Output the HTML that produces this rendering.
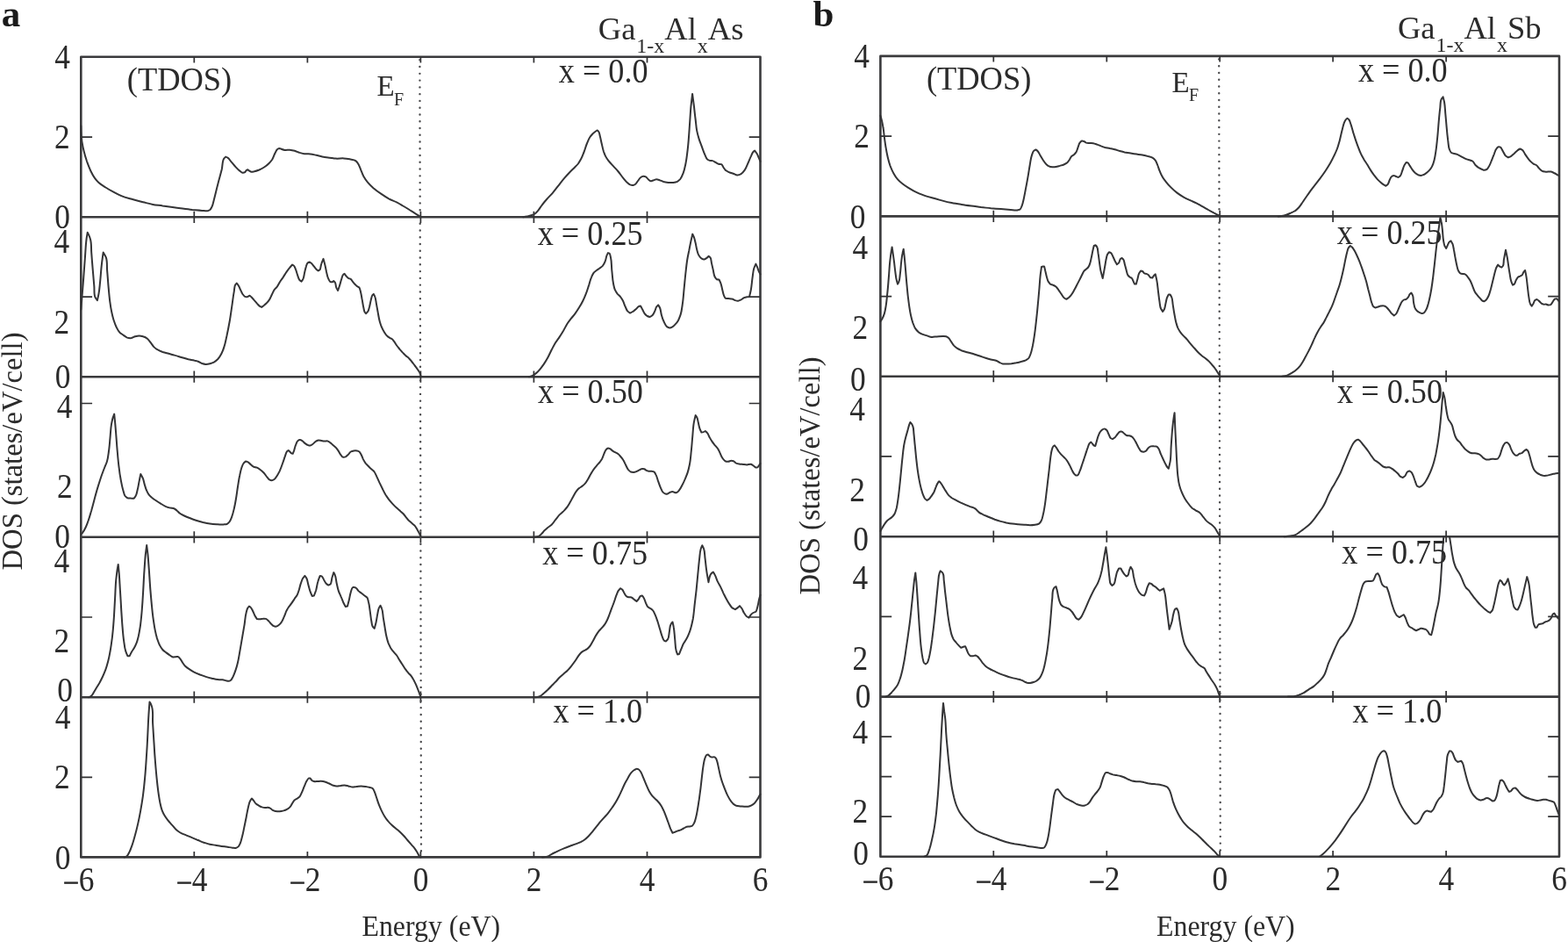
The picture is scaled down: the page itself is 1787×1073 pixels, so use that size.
<!DOCTYPE html>
<html lang="en"><head><meta charset="utf-8"><title>Total density of states</title>
<style>
html,body{margin:0;padding:0;background:#fff;}
body{width:1787px;height:1073px;overflow:hidden;}
svg{display:block;}
text{font-family:"Liberation Serif", "DejaVu Serif", serif;fill:#2b2b2b;}
.ax{fill:none;stroke:#3a3a3c;stroke-width:2.6;stroke-linejoin:round;}
.tk{fill:none;stroke:#303032;stroke-width:1.7;}
.cv{fill:none;stroke:#343436;stroke-width:2;stroke-linejoin:round;stroke-linecap:round;}
.ef{fill:none;stroke:#4a4a4c;stroke-width:2.4;stroke-linecap:round;stroke-dasharray:0.01 7.757;}
.n{font-size:39.3px;}
.m{font-size:29px;stroke:#2b2b2b;stroke-width:0.8;}
.t{font-size:36.5px;}
.g{font-size:37.2px;}
.q{font-size:39px;}
.e{font-size:33px;}
.f{font-size:20px;}
.s{font-size:24px;}
.l{font-size:34.4px;}
.p{font-size:43px;font-weight:bold;fill:#1a1a1a;}
</style></head><body>
<svg width="1787" height="1073" viewBox="0 0 1787 1073" role="img" aria-label="Total density of states of Ga(1-x)Al(x)As and Ga(1-x)Al(x)Sb">
<rect width="1787" height="1073" fill="#fff"/>
<g id="panel-a">
<rect class="ax" x="92.3" y="64.8" width="774.2" height="911.6"/>
<path class="ax" d="M92.3 247.3H866.5M92.3 429.2H866.5M92.3 611.8H866.5M92.3 794.2H866.5"/>
<path class="tk" d="M221.3 64.8v6.6M221.3 240.7v13.2M221.3 422.6v13.2M221.3 605.2v13.2M221.3 787.6v13.2M221.3 976.5v-6.6M350.4 64.8v6.6M350.4 240.7v13.2M350.4 422.6v13.2M350.4 605.2v13.2M350.4 787.6v13.2M350.4 976.5v-6.6M479.4 64.8v6.6M479.4 240.7v13.2M479.4 422.6v13.2M479.4 605.2v13.2M479.4 787.6v13.2M479.4 976.5v-6.6M608.4 64.8v6.6M608.4 240.7v13.2M608.4 422.6v13.2M608.4 605.2v13.2M608.4 787.6v13.2M608.4 976.5v-6.6M737.5 64.8v6.6M737.5 240.7v13.2M737.5 422.6v13.2M737.5 605.2v13.2M737.5 787.6v13.2M737.5 976.5v-6.6"/>
<path class="tk" d="M92.3 156.1h12.8M866.5 156.1h-12.8M92.3 338.2h12.8M866.5 338.2h-12.8M92.3 459.5h12.8M866.5 459.5h-12.8M92.3 703h12.8M866.5 703h-12.8M92.3 885.3h12.8M866.5 885.3h-12.8"/>
<path class="ef" d="M478.4 68.3L480 969.5"/>
<path class="cv" d="M92.3 143.2C92.3 143.2 92.6 155.4 93.4 161.3C94 165 94.7 168.8 95.7 172.5C96.6 176.3 97.8 180.1 99 183.8C100.4 187.6 101.8 191.5 103.5 195C104.8 197.7 106.3 200.5 108 202.9C109.3 204.7 110.9 206.6 112.5 208.1C114.7 210.2 117.7 211.8 120.4 213.5C123.3 215.4 126.3 217.1 129.3 218.7C132.3 220.3 135.3 221.9 138.3 223.2C142.6 225 147.3 226 151.8 227.3C155.5 228.3 159.2 229.2 163 230.2C166.7 231.1 170.4 232.2 174.2 232.9C177.9 233.6 181.7 233.9 185.4 234.5C189.2 235 192.9 235.5 196.6 236C200.4 236.6 204.1 237.1 207.9 237.6C211.6 238.1 215.3 238.6 219.1 239C222.8 239.3 226.6 239.7 230.3 239.9C232.5 240 235.2 240.7 237 240.1C237.7 239.9 238.7 239.4 239.3 239C240.2 238.3 240.9 236.7 241.5 235.6C242.7 233.3 243.1 230.3 243.8 227.7C245.4 221.7 246.7 215.7 248.3 209.7C249.7 204 251.4 198.5 252.8 192.8C253.7 188.7 253.3 183 255.4 180.4C255.9 179.9 257.2 178.6 257.2 178.6C257.2 178.6 258.8 179.3 259.5 179.7C261.2 180.8 262.5 183.2 264 184.9C265.5 186.6 266.9 188.4 268.5 190.1C269.9 191.6 271.4 193.1 272.9 194.4C274 195.2 275.5 196.7 276.3 196.8C276.9 196.9 278.6 196.6 279.2 196.2C279.7 195.8 280.2 194.6 280.8 194.1C281.2 193.8 282.4 193.2 282.4 193.2C282.4 193.2 283.5 194.2 284.2 194.6C284.9 195 285.8 195.6 286.4 195.7C287.3 195.9 288.7 195.5 289.8 195.3C291.7 194.9 293.6 194.2 295.4 193.5C297.3 192.7 299.3 191.7 301 190.5C303 189.3 305 187.7 306.6 186C307.8 184.8 309 183.4 310 182C311.4 179.9 312.1 177.1 313.3 174.8C314.2 173.1 315 170.6 316.3 169.8C316.7 169.5 317.8 169 318.3 168.9C318.9 168.8 320.2 169.7 321.2 170C322.3 170.4 323.5 170.8 324.6 170.9C326.3 171.2 328.4 170.6 330.2 170.7C332 170.9 334 171.3 335.8 171.8C337.7 172.4 339.5 173.3 341.4 173.9C343.2 174.4 345.1 175 347 175.2C349.2 175.5 351.5 175.2 353.7 175.4C356 175.7 358.2 176.3 360.5 176.8C362.7 177.3 364.9 177.9 367.2 178.4C370.2 179 373.2 179.3 376.2 179.7C378.4 180 380.7 180.5 382.9 180.6C385.8 180.8 388.9 180.2 391.9 180.4C394.1 180.5 396.4 180.9 398.6 181.3C400.9 181.8 403.9 182 405.3 183.1C406.1 183.7 407 184.7 407.6 185.6C409.1 187.6 409.9 190.4 411 192.8C412.1 195.4 413 198.2 414.3 200.7C415.6 203 417.2 205.4 418.8 207.4C420.8 209.9 423.2 212.1 425.5 214.2C428.3 216.6 431.4 218.8 434.5 220.9C437.4 222.9 440.4 224.9 443.5 226.6C446.4 228.1 449.6 229.1 452.5 230.6C454.8 231.8 457 233.2 459.2 234.5C461.5 235.8 463.7 237.1 465.9 238.5C468.2 239.9 470.4 241.4 472.7 242.8C474.9 244.2 479.4 246.8 479.4 246.8M596.2 247.3C596.2 247.3 599.2 246.7 600.7 246.4C602.5 246 604.5 245.7 606.3 245C607.4 244.6 608.7 244.1 609.6 243.5C610.9 242.6 612 241.3 613 240.1C614.7 238.2 615.9 235.8 617.5 233.8C619.2 231.5 621.1 229.2 623.1 227C625.2 224.6 627.6 222.3 629.8 219.8C632.1 217.1 634.2 214.1 636.5 211.3C638.7 208.5 640.9 205.6 643.2 202.9C645 200.9 646.9 198.8 648.8 196.8C650.6 194.9 652.5 193.1 654.4 191.2C655.9 189.7 657.6 188.2 658.9 186.5C660.1 184.8 661.2 182.9 662.2 181.1C663.6 178.5 664.5 175.7 665.6 173C666.8 169.9 667.6 166.6 668.9 163.5C669.9 161.1 670.9 158.4 672.3 156.3C673.2 154.9 674.4 153.4 675.6 152.2C676.6 151.3 677.8 150.3 679 149.5C679.6 149.1 680.8 148.4 680.8 148.4C680.8 148.4 682 149.5 682.3 150C683.3 151.3 683.4 153.7 683.9 155.6C684.6 158.2 685.1 160.9 685.7 163.5C686.4 166.5 687 169.6 687.9 172.5C688.6 174.4 689.3 176.4 690.2 178.1C691.1 179.9 692.3 181.5 693.5 183.1C695.2 185.3 697.2 187.3 699.1 189.4C701 191.5 703 193.4 704.7 195.5C706.7 197.9 708.3 200.6 710.3 202.9C711.7 204.6 713.1 206.5 714.8 207.9C715.8 208.8 717 209.9 718.1 210.4C719.1 210.8 720.7 211.2 721.5 211C722.2 210.9 723.5 210.2 724.2 209.7C725.3 208.8 726.1 207.1 727.1 205.9C728.1 204.6 728.9 203.1 730 202.3C730.8 201.6 732.3 200.7 733.1 200.7C733.9 200.6 735.3 201 736 201.3C737.1 201.9 737.9 203.6 739 204.5C739.8 205.2 741.1 206.2 741.6 206.3C742.2 206.4 743.9 205.5 745 205.2C746 204.9 747.1 204.3 747.9 204.3C749 204.2 750.5 204.8 751.7 205.2C753.2 205.6 754.7 206.5 756.2 207C757.9 207.5 759.9 207.7 761.8 207.9C763.6 208 765.6 208.1 767.4 207.9C768.8 207.7 770.6 207.4 771.9 206.8C773 206.2 774.3 205 775.2 204.1C776.7 202.4 777.7 199.6 778.6 197.3C780 193.8 780.7 189.8 781.5 186C782.5 180.9 783.1 175.5 783.7 170.3C784.8 161.3 785.3 152.3 785.9 143.2C786.5 135.7 786.8 128.2 787.5 120.7C788 116.1 789.1 106.9 789.1 106.9C789.1 106.9 790.3 116.1 790.9 120.7C791.5 126 792 131.2 792.7 136.5C793.2 140.6 793.4 144.8 794.2 148.9C794.8 151.9 795.6 154.9 796.5 157.9C797.4 160.9 798.7 163.9 799.8 166.9C800.9 169.9 801.9 173 803.2 175.9C804 177.8 804.8 180.5 806.1 181.5C806.7 182 807.9 182.6 808.8 182.9C809.7 183.2 811.2 182.8 812.1 183.1C813.2 183.4 814.4 184.3 815.5 184.9C816.6 185.5 817.7 186.4 818.8 186.7C819.8 187 821.6 186.8 822.2 187.2C822.9 187.5 823.7 189.4 824.4 190.5C825.3 191.8 826.1 193.3 827.1 194.1C828.1 195 829.8 195.6 831.1 196.2C832.6 196.8 834.1 197.2 835.6 197.7C837.1 198.3 838.9 199.5 840.1 199.5C841.2 199.6 843.4 198.9 844.6 198.2C846 197.4 847.5 195.4 848.6 193.9C850.2 191.7 851.2 188.7 852.4 186C853.6 183.4 854.5 180.7 855.8 178.1C856.6 176.4 857.2 174.2 858.4 173C858.9 172.5 860.2 171.6 860.2 171.6C860.2 171.6 861.8 173.7 862.5 174.8C863.4 176.3 864 178.1 864.7 179.7C865.3 181.1 866.5 183.8 866.5 183.8"/>
<path class="cv" d="M92.3 352.6C92.3 352.6 93.1 343.6 93.4 339.1C94 331.7 94.6 324.2 95.2 316.7C95.8 308.5 96.4 300.3 97 292.1C97.5 285.4 97.7 278.6 98.6 271.9C98.9 269.6 99.7 264.8 99.7 264.8C99.7 264.8 100.8 266.8 101.3 267.9C101.9 269.2 102.4 270.6 102.8 271.9C104.4 276.7 103.8 282.4 104.2 287.6C104.7 294.3 105.2 301.1 105.8 307.8C106.3 313.8 106.8 319.7 107.3 325.7C107.8 330.2 106.8 336 108.7 339.1C109.2 340 110.9 342.1 110.9 342.1C110.9 342.1 112.1 337.1 112.5 334.7C113.3 330.2 113.6 325.7 114.1 321.2C114.8 314.5 115.1 307.8 115.9 301.1C116.4 296.5 117.7 287.5 117.7 287.5C117.7 287.5 120.1 291.4 120.8 293.2C122.4 297.3 121.7 302.9 122.1 307.8C122.7 314.5 123.1 321.2 123.7 327.9C124.2 333.2 124.6 338.4 125.3 343.6C125.8 347.4 126.3 351.1 127.1 354.8C127.7 357.8 128.4 360.9 129.3 363.8C130.3 366.8 131.3 370 132.7 372.7C133.7 374.7 134.7 376.9 136.1 378.3C137.2 379.6 139 380.6 140.5 381.7C142 382.7 143.6 384.1 145 384.6C146.3 385 148.2 385.2 149.5 385.1C150.9 384.9 152.5 383.7 154 383.3C155.4 382.9 157.1 382.4 158.5 382.4C159.9 382.4 161.6 382.8 163 383.3C164.7 383.8 166.6 384.7 167.9 385.7C169.4 386.9 170.7 389 172 390.7C173.1 392.1 174.1 393.9 175.3 395.1C176.3 396.1 177.5 397.1 178.7 397.8C180.7 399.2 183.1 400.2 185.4 401C187.6 401.7 189.9 402.2 192.2 402.8C194.4 403.4 196.7 403.9 198.9 404.6C201.5 405.3 204.1 406.2 206.7 407C209.4 407.8 212 408.6 214.6 409.3C216.8 409.8 219.1 410.1 221.3 410.6C222.8 411 224.4 411.2 225.8 411.7C227.3 412.3 228.8 413.4 230.3 414C231.6 414.4 233.1 414.8 234.3 414.9C235.9 415 237.7 414.6 239.3 414.2C240.8 413.8 242.5 413.3 243.8 412.6C245.4 411.8 247 410.3 248.3 409C249.8 407.4 251.2 405.1 252.3 403C253.6 400.6 254.6 397.8 255.4 395.1C256.8 391.2 257.4 386.9 258.4 382.8C259.6 377.3 260.7 371.6 261.7 366C262.8 360.1 263.5 354.1 264.4 348.1C265.2 342.9 265.7 337.6 266.7 332.4C267.2 329.6 267 325.7 268.5 323.9C268.8 323.5 269.8 322.6 269.8 322.6C269.8 322.6 271.2 324.3 271.8 325.3C272.8 326.7 273.3 328.6 274.1 330.2C274.8 331.7 275.4 333.3 276.3 334.7C277 335.7 277.9 337.1 278.8 337.6C279.4 337.9 280.8 338.3 281.5 338.2C282.3 338.2 284.6 336.7 284.6 336.7C284.6 336.7 286.2 338 286.9 338.7C287.9 339.7 288.8 340.9 289.8 342.1C290.9 343.3 292 344.6 293.1 345.9C294.2 347 295.2 348.5 296.5 349.2C297 349.5 298.1 349.9 298.1 349.9C298.1 349.9 300 348.4 301 347.7C302.1 346.7 303.4 345.8 304.4 344.7C305.4 343.6 306.4 342.3 307.3 340.9C308.4 339.2 309 337.2 310 335.3C310.9 333.5 311.7 331.4 312.9 329.7C313.7 328.7 314.8 327.8 315.6 326.8C316.9 325.2 317.8 323.1 318.9 321.2C320.2 319.3 321.5 317.5 322.8 315.6C324.1 313.6 325.4 311.4 326.8 309.4C327.9 307.8 329 306.3 330.2 304.9C331.1 303.7 333.1 301.5 333.1 301.5C333.1 301.5 334.6 302.4 335.1 302.9C335.9 303.7 336.4 305.4 336.9 306.7C337.8 308.8 338.3 311.2 339.1 313.4C339.8 315.3 340.3 317.8 341.4 319C341.9 319.5 343.6 320.6 343.6 320.6C343.6 320.6 345 318.8 345.4 317.9C346.4 316 346.5 313.4 347 311.1C347.6 308.7 348 306.1 348.8 303.8C349.2 302.4 349.6 300.5 350.4 299.7C350.8 299.3 352.6 298.4 352.6 298.4C352.6 298.4 354.2 299.4 354.9 299.9C355.9 300.9 356.8 302.2 357.8 303.3C358.7 304.4 359.5 305.7 360.5 306.7C361.1 307.3 362.7 308.5 362.7 308.5C362.7 308.5 364.2 307.6 364.5 307.3C365.5 306.4 365.4 303.1 366.1 301.1C366.7 299 368.5 294.8 368.5 294.8C368.5 294.8 369.8 299.3 370.3 301.5C371 304.3 371.5 307.2 372.1 310C372.7 312.3 373 314.7 373.9 316.7C374.5 318.1 375.4 320.4 376.2 320.8C376.6 321 377.9 321.3 378.4 321.2C378.9 321.1 380.2 320.1 380.2 320.1C380.2 320.1 381.4 321.2 381.8 321.7C382.9 323.1 382.5 326.1 383.4 327.9C383.8 328.9 385.1 330.9 385.1 330.9C385.1 330.9 386.4 327.4 386.9 325.7C387.8 323.1 388.3 320.4 389.2 317.9C389.8 316.1 390.1 313.7 391.2 312.7C391.5 312.4 392.6 311.8 392.6 311.8C392.6 311.8 393.8 313.7 394.6 314.5C395.3 315.3 396 316.2 396.8 316.7C397.6 317.3 399 317.4 399.7 317.9C400.6 318.5 401.2 319.8 402 320.8C402.7 321.7 403.4 322.6 404.2 323.5C404.9 324.2 405.7 325.1 406.5 325.7C407.3 326.3 408.6 326.8 409.2 327.3C410.1 328.2 410.5 330.7 411 332.4C411.7 335 412 337.6 412.5 340.3C413.2 343.6 413.5 347 414.3 350.3C414.8 352.2 414.9 354.8 415.9 355.9C416.2 356.3 417.2 357.1 417.2 357.1C417.2 357.1 418.8 355.6 419.3 354.8C420.2 353.4 420.5 351.1 421.1 349.2C421.8 346.7 422.1 344 422.8 341.4C423.3 339.7 423.5 337.5 424.4 336.2C424.8 335.8 425.8 334.9 425.8 334.9C425.8 334.9 426.9 337 427.3 338C428.3 340.4 428.4 343.2 428.9 345.9C429.5 349.2 430.1 352.6 430.7 355.9C431.3 359.3 431.8 362.8 432.7 366C433.4 368.3 434 370.6 435 372.7C435.8 374.7 436.8 376.6 437.9 378.3C438.9 379.9 440 381.7 441.3 382.8C442.2 383.7 443.5 384.4 444.6 385.1C445.3 385.5 446.3 385.7 446.9 386.2C447.7 386.8 448.4 388 449.1 388.9C450.3 390.5 451.3 392.4 452.5 394C453.5 395.4 454.7 396.7 455.8 398.1C456.9 399.3 458 400.6 459.2 401.9C460.3 403 461.4 404.2 462.6 405.2C463.6 406.2 464.9 406.9 465.9 407.9C467.2 409.1 468.2 410.6 469.3 412C470.5 413.4 471.5 414.9 472.7 416.4C473.8 417.9 475 419.4 476 420.9C476.8 422 477.7 423.1 478.3 424.3C478.8 425.3 479.4 427.6 479.4 427.6M602.9 429.2C602.9 429.2 606 428.3 607.4 427.6C608.5 427 609.7 426.2 610.7 425.4C612.4 424.1 613.9 422.5 615.2 420.9C616.8 419 618.3 416.9 619.7 414.9C621.3 412.5 622.8 410 624.2 407.5C625.8 404.6 627.1 401.5 628.6 398.5C630.1 395.7 631.5 392.9 633.1 390.2C634.5 388.1 636.2 386.1 637.6 383.9C639.2 381.6 640.6 379.2 642.1 376.8C643.6 374.1 644.9 371.3 646.5 368.7C647.9 366.6 649.5 364.7 651 362.7C652.5 360.8 654.1 359 655.5 357.1C657.1 354.9 658.6 352.6 660 350.3C661.6 347.8 663.1 345.2 664.4 342.5C665.7 340 666.8 337.3 667.8 334.7C669.1 331.4 670.1 327.9 671.2 324.6C672.1 321.6 672.8 318.4 674.1 315.6C674.8 313.9 675.6 311.8 676.8 310.5C677.6 309.5 679 308.6 680.1 307.8C681.2 307 682.4 306.3 683.5 305.5C684.6 304.7 685.9 303.8 686.8 302.9C688 301.5 689 299.5 689.7 297.7C690.6 295.6 690.7 293.1 691.5 291C691.9 290 692.9 288.1 692.9 288.1C692.9 288.1 694.4 288.6 694.7 288.7C695.3 289.2 695.6 291.7 696 293.2C697.1 297.8 696.8 302.9 697.3 307.8C697.9 313 698 318.4 699.1 323.5C699.6 325.7 700 328.2 700.9 330.2C701.6 331.7 702.6 333.3 703.6 334.7C704.6 335.9 706 336.8 707 338C708.1 339.4 709 341 709.9 342.5C711 344.6 711.5 347.1 712.6 349.2C713.4 351 714.1 353.1 715.2 354.4C716 355.2 718.1 356.6 718.1 356.6C718.1 356.6 720.5 355.5 721.5 354.8C722.7 354.1 723.8 353.1 724.9 352.1C725.9 351.2 726.7 349.8 727.8 349.2C728.4 348.9 730 348.6 730 348.6C730 348.6 731.5 351.2 732.2 352.6C733.1 354.2 733.8 356.2 734.9 357.5C735.7 358.4 736.7 359.5 737.6 360C738.4 360.4 739.9 360.9 740.5 360.9C741.2 360.8 742.7 359.9 743.4 359.3C744.5 358.4 745.3 356.4 746.1 354.8C747 353.1 747.2 350.7 748.4 349.2C748.8 348.6 750.1 347.4 750.1 347.4C750.1 347.4 751.5 349.4 751.9 350.3C753.2 352.9 753.1 356.4 754 359.3C754.7 361.9 755.6 364.7 756.9 367.1C757.7 368.8 758.7 371.2 760 372.1C760.7 372.6 762.4 373.4 763.1 373.4C763.9 373.4 765.4 372.8 766.3 372.3C767.5 371.6 768.6 370.4 769.6 369.4C770.9 368.1 772.1 366.5 773 364.9C774.1 362.9 774.9 360.4 775.7 358.2C776.9 354.3 777.3 350 777.9 345.9C778.8 339.9 779.1 333.9 779.7 327.9C780.3 322 780.8 316 781.5 310C782 305.2 782.5 300.3 783.3 295.5C783.8 292.1 784.6 288.7 785.3 285.4C786 281.6 786.7 277.9 787.5 274.2C788.1 271.6 789.3 266.6 789.3 266.6C789.3 266.6 790.4 268.9 790.9 270.1C791.7 272.3 792.1 274.6 792.7 276.9C793.2 279.3 793.6 281.9 794.2 284.3C794.8 286.5 795.3 289.2 796.5 291C797.2 292.1 798.3 293.7 799.4 294.3C800.2 294.8 801.9 295.5 802.5 295.5C803.2 295.4 804.6 294.5 805.4 293.9C806.2 293.3 807.7 291.7 807.7 291.7C807.7 291.7 809 292.8 809.4 293.2C810.6 294.6 810.5 297.7 811 299.9C811.6 302.6 812.2 305.2 812.8 307.8C813.4 310.4 813.5 313.6 814.8 315.6C815.4 316.5 816.4 318 817 318.3C817.5 318.5 819.5 318.5 819.5 318.5C819.5 318.5 820.8 321.1 821.3 322.3C822.3 324.8 822.6 327.6 823.3 330.2C823.9 332.4 824.2 334.9 825.1 336.9C825.5 337.9 826.7 339.8 826.7 339.8C826.7 339.8 828.9 340 830 340C831.5 340.2 833.2 340.1 834.5 340.5C835.6 340.8 836.7 341.7 837.9 342.1C838.9 342.4 840.3 342.8 841.2 342.7C842.2 342.6 843.5 341.9 844.6 341.4C845.7 340.8 846.8 339.7 847.9 339.1C848.9 338.7 850.2 338.4 851.3 338.2C852.2 338.1 854 338 854 338C854 338 855.3 332.8 855.8 330.2C856.6 325.8 856.9 321.2 857.5 316.7C858.1 313 858.2 309 859.3 305.5C859.9 303.9 861.4 300.6 861.4 300.6C861.4 300.6 862.6 303.1 863.1 304.4C863.7 305.9 864.1 307.5 864.7 308.9C865.2 310 866.5 312.3 866.5 312.3"/>
<path class="cv" d="M92.3 608.9C92.3 608.9 93.9 607.1 94.5 606.2C95.7 604.6 96.6 602.8 97.5 601C98.7 598.5 99.6 595.8 100.6 593.2C102 589.3 103 585.4 104.2 581.5C105.5 576.8 106.7 572 108 567.3C109.2 562.8 110.4 558.3 111.8 553.9C113.1 549.7 114.4 545.6 115.8 541.5C116.9 538.5 118 535.5 119.2 532.5C120.1 530.3 121.2 528 121.9 525.8C123 522.2 123.4 518.3 123.9 514.5C124.7 509.4 125 504.1 125.5 498.8C126 493.6 126.1 488.2 127 483.1C127.5 480.7 127.9 478.2 128.6 475.9C129.1 474.5 130.2 471.6 130.2 471.6C130.2 471.6 130.8 477.8 131.1 480.9C131.6 486.1 132 491.3 132.4 496.6C132.9 502.6 133.2 508.6 133.8 514.5C134.3 520.5 134.8 526.6 135.6 532.5C136.1 537 136.7 541.5 137.6 546C138.3 549.7 139 553.6 140 557.2C140.8 559.9 141.2 563.4 142.7 565.1C143.4 565.8 144.6 567 145.4 567.3C146.3 567.7 147.8 567.5 149 567.6C150.1 567.6 151.9 568 152.4 567.8C152.9 567.6 154.1 566 154.6 565.1C155.7 563.3 156.1 560.6 156.6 558.3C157.4 555.4 157.8 552.4 158.4 549.4C159 546.2 160.3 540 160.3 540C160.3 540 162.2 543.2 162.9 544.9C163.8 547 164 549.4 164.7 551.6C165.4 553.9 166 556.2 166.9 558.3C167.7 560 168.5 561.9 169.6 563.3C170.5 564.5 171.8 565.6 173 566.7C174.4 567.9 175.9 569 177.5 570C179.3 571.3 181.2 572.5 183.1 573.6C184.9 574.7 186.8 575.9 188.7 576.8C190.4 577.5 192.4 578.1 194.3 578.6C195.8 578.9 197.6 578.9 198.8 579.5C199.7 579.9 200.6 580.8 201.5 581.5C202.7 582.5 203.8 583.9 205 584.8C206.5 585.9 208.3 586.7 210 587.5C212.1 588.6 214.4 589.4 216.7 590.2C218.9 591.1 221.2 592 223.4 592.7C226 593.6 228.6 594.3 231.3 595C233.9 595.6 236.5 596.2 239.1 596.5C241.7 596.9 244.3 597.1 247 597.2C249.6 597.4 252.3 597.7 254.8 597.4C256.1 597.3 257.9 597.3 258.8 596.8C259.7 596.3 260.8 595.1 261.5 594.3C262.7 592.8 263.5 590.6 264.2 588.7C265.3 585.8 266 582.7 266.7 579.7C267.6 576 268.3 572.2 268.9 568.5C269.7 564 270.2 559.5 270.9 555C271.7 550.5 272.2 545.9 273.2 541.5C273.8 538.5 274.4 535.4 275.4 532.5C276.1 530.9 276.6 528.8 277.7 527.6C278.2 526.9 279.9 525.6 279.9 525.6C279.9 525.6 282 526 282.8 526.5C283.9 527 284.7 528.3 285.7 529.1C286.7 530 287.8 531.1 288.9 531.6C290 532.2 291.7 532.2 292.9 532.7C294.3 533.3 295.7 534.3 296.9 535.2C298.3 536.2 299.6 537.5 300.8 538.8C302 540.1 303 541.7 304.1 543.1C305.1 544.2 306 545.8 307 546.4C307.7 546.8 309.1 547.4 309.7 547.3C310.4 547.3 311.9 546.5 312.6 546C313.7 545.3 314.5 543.8 315.3 542.6C316.6 540.8 317.7 538.6 318.7 536.6C320 533.8 321 530.9 322 528C323 525.4 323.8 522.7 324.7 520.2C325.5 518.1 325.9 515.3 327.2 514.1C327.6 513.7 328.8 513 328.8 513C328.8 513 329.8 514 330.3 514.5C330.9 515.1 331.5 516 332.1 516.3C332.5 516.6 333.7 516.8 333.7 516.8C333.7 516.8 334.6 514.6 335.1 513.4C335.8 511.2 336.2 508.8 337.1 506.7C337.7 505.2 338.3 502.9 339.3 502.2C339.8 501.8 341.2 501.1 341.8 501.1C342.4 501.1 343.7 501.7 344.5 502.2C345.7 502.9 346.6 504.3 347.8 505.1C348.9 505.9 350 506.7 351.2 507.1C351.9 507.4 352.9 507.6 353.4 507.6C354.2 507.5 355.5 506.6 356.3 506C357.6 505.2 358.5 503.6 359.7 502.9C360.6 502.3 361.9 501.7 362.8 501.5C363.8 501.4 365.2 501.8 366.4 502C367.5 502.2 368.5 502.6 369.6 502.6C370.7 502.7 372.2 502.2 373.2 502.4C374 502.6 375 503.2 375.8 503.8C377.1 504.5 378.1 505.7 379.2 506.7C380.3 507.7 381.6 508.6 382.6 509.6C383.6 510.7 384.6 512.1 385.5 513.4C386.5 514.9 387.1 516.6 388.2 517.9C388.9 518.9 390 520.4 390.6 520.6C391.2 520.8 393 520.7 393.8 520.4C394.7 520 395.8 518.8 396.7 517.9C397.8 516.9 398.7 515.2 399.8 514.5C400.7 514 402.1 513.6 403.2 513.4C404.3 513.2 405.7 513.2 406.8 513.4C407.6 513.6 408.8 514.1 409.5 514.5C410.3 515.2 411.1 516.8 411.7 517.9C412.6 519.5 413.1 521.4 413.9 523.1C414.7 524.6 415.6 526.2 416.6 527.6C417.5 528.7 418.6 529.7 419.6 530.7C420.7 531.9 421.8 533 422.9 534.1C424 535.1 425.4 536 426.3 537C427.5 538.5 428.3 540.7 429.2 542.6C430.3 544.8 431.3 547.1 432.3 549.4C433.5 551.8 434.7 554.3 435.9 556.8C437.1 559.2 438.3 561.7 439.7 564C440.8 565.6 441.9 567.3 443.1 568.9C444.5 570.7 446 572.4 447.6 574.1C449 575.6 450.5 577.1 452.1 578.6C453.5 579.9 455.1 581.1 456.5 582.4C457.7 583.4 458.9 584.4 459.9 585.5C461.1 586.8 462.1 588.4 463.3 589.8C464.3 591.1 465.4 592.4 466.6 593.6C467.7 594.6 468.9 595.6 470 596.5C470.9 597.3 471.9 598 472.7 598.8C473.5 599.7 474.2 601 474.9 602.1C475.7 603.5 476.4 604.8 477.2 606.2C477.9 607.7 479.4 610.7 479.4 610.7M609.6 611.8C609.6 611.8 612.9 611.3 614.1 610.7C615.2 610.1 616.4 608.8 617.5 607.8C618.7 606.6 619.6 605.1 620.8 603.9C621.9 602.9 623 602 624.2 601C625.6 599.8 627.3 598.9 628.6 597.7C630.3 596.1 631.6 593.9 633.1 592C634.6 590.2 636 588.1 637.6 586.4C639 585 640.7 583.8 642.1 582.4C643.6 580.8 645.3 579.2 646.5 577.4C647.8 575.7 648.8 573.7 649.9 571.8C651.1 569.8 652.1 567.6 653.3 565.5C654.3 563.6 655.3 561.6 656.6 559.9C657.6 558.6 658.7 557.2 660 556.1C661 555.3 662.3 554.7 663.3 553.9C664.5 553 665.7 552 666.7 550.9C668 549.5 669 547.7 670 546C671.3 544 672.2 541.8 673.4 539.7C674.5 537.9 675.5 536 676.8 534.3C677.8 532.9 679 531.6 680.1 530.3C681.2 529 682.4 527.8 683.5 526.5C684.4 525.2 685.4 523.8 686.2 522.4C687.1 520.7 687.6 518.6 688.4 516.8C689.1 515.3 689.6 513.4 690.6 512.3C691.2 511.7 692.4 510.6 692.9 510.5C693.3 510.4 694.6 510.9 695.3 511.2C696.3 511.6 697.1 512.8 698 513.4C698.9 514.1 699.9 514.7 700.9 515.2C701.9 515.8 703.2 516.2 704.1 516.8C705.1 517.5 706 518.7 707 519.7C708.2 521 709.4 522.5 710.3 524C711.5 525.8 712.2 527.9 713.2 529.8C714.1 531.5 714.8 533.4 715.9 534.8C716.7 535.7 717.9 537 718.8 537.5C719.6 537.8 721 537.9 722 537.9C723.1 537.9 724.4 537.4 725.5 537C726.6 536.6 727.6 535.9 728.7 535.4C729.6 535 730.7 534.2 731.6 534.1C732.3 534 733.5 534.1 734.3 534.3C735.1 534.6 735.9 535.5 736.7 535.9C737.5 536.3 738.5 536.6 739.4 536.8C740.4 537 741.7 536.6 742.8 536.8C743.6 536.9 744.9 537.1 745.4 537.5C746.2 537.9 747.1 539.8 747.7 541.1C748.8 543.2 749.3 545.9 750.1 548.2C751 550.6 751.8 553.1 752.8 555.4C753.6 557.2 754.3 559.4 755.5 560.6C756.2 561.3 757.7 562.5 758.4 562.6C759.1 562.7 760.5 562.5 761.3 562.2C762.2 561.8 763.1 561 764 560.6C764.7 560.3 765.7 559.9 766.3 559.9C767 559.9 768.1 560.9 768.9 561C769.6 561.2 770.7 561.2 771.2 561C772 560.8 773.3 559.3 774.1 558.3C775.5 556.8 776.4 554.6 777.4 552.7C778.7 550.4 779.8 548 780.8 545.5C781.8 543.1 782.9 540.6 783.7 538.1C784.7 535.2 785.3 532.1 785.9 529.1C786.9 524.4 787.2 519.4 787.7 514.5C788.4 508.6 788.7 502.6 789.3 496.6C789.8 491.3 789.9 486 790.9 480.9C791.4 478.2 792.7 473 792.7 473C792.7 473 793.8 474.5 794.2 475.2C795.2 476.9 795.3 479.3 795.8 481.3C796.4 483.8 796.7 486.4 797.6 488.7C798.1 490 799.4 492.5 799.4 492.5C799.4 492.5 800.9 492.3 801.6 492.1C802.4 491.8 803.8 491 803.8 491C803.8 491 805.5 492.4 806.1 493.2C807.2 494.6 807.8 496.7 808.8 498.4C809.6 499.9 810.5 501.4 811.5 502.9C812.5 504.4 813.8 505.9 815 507.4C816.2 508.8 817.5 510.1 818.4 511.6C819.5 513.3 820.2 515.4 821.1 517.2C821.9 519 822.6 521 823.8 522.4C824.6 523.4 825.7 524.9 826.7 525.3C827.4 525.7 829 525.9 830 525.8C831.1 525.7 832.4 524.7 833.4 524.7C834.1 524.7 835.3 525 836.1 525.3C837.1 525.8 838 527.1 839 527.6C839.9 528 841.2 528.3 842.3 528.5C843.8 528.8 845.3 528.8 846.8 528.9C848.3 529.1 849.8 529.4 851.3 529.4C852.7 529.3 854.7 528.4 855.8 528.7C856.5 528.9 857.6 529.7 858.4 530.3C859.5 530.9 860.7 532.4 861.4 532.5C861.8 532.6 863.2 532.3 863.6 532.1C864.1 531.8 864.6 530.6 865.2 529.8C865.6 529.2 866.5 528 866.5 528"/>
<path class="cv" d="M101.3 794.2C101.3 794.2 103.4 793.2 104.2 792.6C105.3 791.7 106 790 106.9 788.6C108 786.8 109.1 784.9 110.2 783C111.4 781.1 112.5 779.3 113.6 777.4C114.8 775.2 115.9 773 117 770.7C118.2 768.1 119.3 765.5 120.3 762.9C121.4 760 122.2 756.9 123 753.9C123.9 750.6 124.6 747.2 125.2 743.8C126 740.1 126.5 736.4 127 732.7C127.7 728.2 128.2 723.7 128.6 719.2C129.2 713.3 129.6 707.3 130 701.3C130.4 694.6 130.7 687.9 131.1 681.2C131.5 674.5 131.6 667.7 132.2 661C132.6 657.3 133 653.6 133.5 649.8C133.9 647.5 134.7 642.9 134.7 642.9C134.7 642.9 135.5 650.5 135.8 654.3C136.3 660.3 136.5 666.3 136.9 672.2C137.4 679.7 137.8 687.1 138.2 694.6C138.7 701.3 139 708 139.6 714.7C140 720 140.4 725.2 141.2 730.4C141.7 734.2 142 738.1 143.2 741.6C143.8 743.5 145.4 747.2 145.4 747.2L147.7 747.2C147.7 747.2 149.1 744.2 149.9 742.7C150.8 741.2 151.9 739.8 152.8 738.2C153.8 736.5 154.8 734.5 155.5 732.7C156.5 730.2 157.1 727.4 157.8 724.8C158.6 721.2 159.2 717.4 159.8 713.6C160.6 708.1 161.1 702.4 161.6 696.8C162.2 689.4 162.7 681.9 163.1 674.5C163.6 666.3 163.9 658 164.5 649.8C164.9 643.9 165.2 637.9 165.8 631.9C166.2 628.3 167.2 621.1 167.2 621.1C167.2 621.1 168.1 628.3 168.5 631.9C169.1 637.9 169.4 643.9 169.9 649.8C170.4 657.3 170.8 664.8 171.4 672.2C171.9 678.2 172.4 684.2 173 690.1C173.5 695.4 174 700.6 174.8 705.8C175.4 709.9 175.9 714.1 176.8 718.1C177.4 721.1 178.1 724.1 179 727.1C179.9 729.7 180.7 732.5 182 734.9C182.9 736.7 184 738.6 185.3 740C186.4 741.3 188 742.3 189.4 743.4C190.6 744.3 191.9 745.2 193.2 746.1C194.3 746.8 195.5 748 196.5 748.3C197.4 748.6 198.8 748.4 199.9 748.3C200.9 748.2 202.3 747.8 202.8 747.9C203.4 748 204.7 749.6 205.5 750.6C206.6 751.9 207.2 753.6 208.2 755C209.1 756.3 210 757.8 211.1 758.8C212.4 760.1 214 761.2 215.6 762.2C217.4 763.4 219.3 764.6 221.2 765.6C223.3 766.7 225.6 767.6 227.9 768.5C230.1 769.3 232.4 770.2 234.6 770.9C236.8 771.6 239.1 772.2 241.4 772.7C243.6 773.2 245.8 773.8 248.1 774.1C249.9 774.3 251.9 774 253.7 774.3C254.9 774.5 256.2 774.9 257.5 775.2C258.5 775.4 259.6 775.9 260.4 775.8C261.2 775.8 262.5 775.2 263.1 774.7C264.1 774 264.8 772.1 265.6 770.7C266.7 768.6 267.4 766.2 268.3 764C269.3 761.1 270.2 758 270.9 755C272 750.7 272.6 746.1 273.4 741.6C274.3 736.4 275.2 731.2 276.1 725.9C276.9 721.1 277.8 716.2 278.6 711.4C279.3 706.9 279.4 702.3 280.6 698C281.1 696.1 281.4 693.8 282.4 692.4C282.8 691.8 283.9 690.6 283.9 690.6C283.9 690.6 285.3 691.4 285.7 691.9C286.7 692.9 287.3 694.4 288 695.7C288.8 697.3 289.4 699.1 290.2 700.7C291 702.2 292.9 705.1 292.9 705.1C292.9 705.1 295.2 705.4 296.3 705.3C297.4 705.3 298.5 704.7 299.6 704.7C300.7 704.6 302.2 704.6 303 704.9C304.1 705.3 305.3 706.6 306.4 707.6C307.4 708.6 308.2 709.9 309.3 710.9C310.1 711.7 311.1 712.8 312 713.2C312.7 713.5 314.2 713.7 314.9 713.6C315.8 713.5 317.1 712.5 318 711.8C319.1 711 320.1 709.6 320.9 708.5C322.2 706.7 322.9 704.5 323.8 702.4C324.8 700.2 325.5 697.9 326.5 695.7C327.2 694.4 327.9 693 328.8 691.7C329.8 690.2 331.1 688.9 332.1 687.4C333.3 685.8 334.3 684 335.5 682.3C336.4 680.9 337.6 679.7 338.4 678.3C339.4 676.5 340 674.3 340.7 672.2C341.5 669.7 342 666.9 342.9 664.4C343.6 662.5 344.1 660.4 345.1 658.8C345.8 657.8 347.4 655.9 347.4 655.9C347.4 655.9 348.9 657.8 349.4 658.8C350.4 660.7 350.6 663.3 351.2 665.5C351.9 668.1 352.5 670.8 353.4 673.3C354.1 675.2 355.7 678.9 355.7 678.9L357.9 678.5C357.9 678.5 359.5 674.3 360.2 672.2C361.1 669 361.4 665.4 362.4 662.2C363 660.1 364.6 656.1 364.6 656.1C364.6 656.1 366.5 656.4 366.9 656.6C367.6 657 368.4 659.1 369.1 660.4C370 661.9 370.7 663.7 371.8 664.8C372.5 665.5 374.3 666.6 374.3 666.6C374.3 666.6 376.1 665.8 376.5 665.5C377.7 664.6 377.8 660.3 378.5 657.7C379.1 655.8 380.3 652.1 380.3 652.1C380.3 652.1 381.5 654.3 381.9 655.4C383 658.2 383 661.4 383.7 664.4C384.4 667.4 384.9 670.5 385.9 673.3C386.7 675.6 387.9 677.8 388.8 680.1C389.8 682.3 390.5 684.6 391.5 686.8C392.2 688.2 393.8 691 393.8 691L396 690.6C396 690.6 397.2 685.8 397.8 683.4C398.5 680.4 398.9 677.4 399.8 674.5C400.3 672.8 400.9 670 401.6 669.5C401.9 669.3 403.3 668.8 403.9 668.9C404.4 668.9 405.5 669.5 406.1 670C407 670.6 407.5 672 408.3 672.9C409.3 673.9 410.6 674.7 411.7 675.6C412.8 676.5 413.9 677.4 415.1 678.3C416.2 679.1 417.8 679.9 418.4 680.7C419.2 681.8 419.6 684 420 685.7C421 689.3 421.2 693.1 421.8 696.8C422.4 700.6 422.6 704.4 423.4 708C423.7 709.9 423.8 712.2 424.7 713.6C425.2 714.4 426.7 715.9 426.7 715.9C426.7 715.9 428 711.4 428.5 709.2C429.3 705.8 429.6 702.4 430.3 699.1C430.8 696.8 431 694.3 431.9 692.4C432.3 691.5 433.5 689.7 433.5 689.7C433.5 689.7 434.8 692.2 435.2 693.5C436.4 696.5 436.3 700.2 436.8 703.6C437.4 707.3 438 711 438.6 714.7C439.2 718.1 439.6 721.5 440.4 724.8C441 727.4 441.7 730.2 442.6 732.7C443.4 734.5 444.3 736.5 445.3 738.2C446.3 739.8 447.5 741.3 448.7 742.7C449.8 744 451.1 745.2 452.1 746.5C453.3 748.2 454.3 750.3 455.4 752.1C456.5 753.9 457.7 755.6 458.8 757.3C459.9 759 460.9 760.8 462.1 762.4C463.2 763.9 464.3 765.3 465.5 766.7C466.6 767.9 467.9 769 468.9 770.3C470 771.7 470.9 773.5 471.8 775.2C472.8 777 473.6 778.9 474.5 780.8C475.3 782.6 476 784.5 476.7 786.4C477.3 787.8 477.8 789.3 478.3 790.8C478.7 792 479.4 794.2 479.4 794.2M610.7 794.2C610.7 794.2 613.9 793.7 615.2 793.1C616.8 792.4 618.3 790.9 619.7 789.7C621.2 788.5 622.7 787.1 624.2 785.7C625.7 784.2 627.2 782.7 628.6 781.2C630.1 779.7 631.7 778.3 633.1 776.7C634.7 775.1 636 773.4 637.6 771.8C639 770.4 640.6 769.1 642.1 767.8C643.5 766.5 645.2 765.3 646.5 764C648.2 762.4 649.6 760.6 651 758.8C652.6 756.9 654.1 754.9 655.5 752.8C656.7 751.1 657.7 749.3 658.9 747.6C659.9 746.2 660.9 744.5 662.2 743.4C663.2 742.6 664.4 741.8 665.6 741.2C666.6 740.5 667.9 740.1 668.9 739.4C670.1 738.5 671.3 737.2 672.3 736C673.6 734.4 674.6 732.3 675.6 730.4C676.8 728.4 677.8 726.2 679 724.1C680 722.5 681.1 720.8 682.3 719.2C683.4 717.9 684.6 716.7 685.7 715.4C686.8 714.1 688.1 712.8 689.1 711.4C690.2 709.8 691.1 708 692 706.2C693 704.1 693.8 701.8 694.7 699.5C695.6 697.2 696.4 694.8 697.3 692.4C698.2 690 699.2 687.6 700 685.2C700.9 682.8 701.5 680.2 702.5 677.8C703.2 676.2 703.8 674.3 704.7 672.9C705.3 672 707 670.2 707 670.2C707 670.2 708.7 671.1 709.2 671.6C710.2 672.4 710.6 674.3 711.4 675.6C712.1 676.7 712.8 678.2 713.7 678.9C714.4 679.5 715.6 680 716.6 680.3C717.5 680.5 718.9 680.2 719.7 680.5C720.6 680.8 721.7 682 722.6 682.7C723.6 683.5 725.5 685 725.5 685C725.5 685 727.1 683.2 727.8 682.3C728.6 681.2 729.2 679.3 730 678.9C730.4 678.7 732 678.5 732 678.5C732 678.5 733.3 680.3 733.8 681.2C734.8 682.9 735.2 685 736 686.8C736.7 688.3 737.3 690.3 738.3 691.3C739 691.9 740.3 692.4 741.2 693C742.1 693.7 743.2 694.3 743.9 695.1C745.1 696.3 745.8 698.5 746.6 700.2C747.7 702.7 748.6 705.4 749.5 708C750.5 711 751.2 714 752.2 717C753 719.6 753.6 722.3 754.6 724.8C755.3 726.5 756 729.2 756.9 729.7C757.2 730 759.1 730.4 759.1 730.4C759.1 730.4 760.6 728.9 761.1 728.2C762.5 726.1 762.3 722.2 762.9 719.2C763.5 716.4 763.3 712.9 764.7 710.7C765.1 710 766.5 708.5 766.5 708.5C766.5 708.5 767.5 712.7 767.8 714.7C768.6 719.1 768.7 723.7 769.2 728.2C769.7 732.7 769.5 737.4 770.7 741.6C771.1 742.9 772.1 745.4 772.1 745.4L774.1 745C774.1 745 775.6 741.2 776.3 739.4C777.2 737.3 777.9 735.1 779 733.1C779.9 731.6 781 730.2 781.9 728.6C783 726.7 784 724.6 784.8 722.6C785.9 720.1 786.8 717.4 787.5 714.7C788.5 711.5 789.1 708 789.8 704.7C790.6 699.9 791 695 791.5 690.1C792.2 684.2 792.9 678.2 793.6 672.2C794.2 666.3 794.7 660.3 795.3 654.3C795.9 648.4 796.4 642.4 797.1 636.4C797.6 632.7 797.6 628.7 798.7 625.2C799.1 623.9 800.3 621.2 800.3 621.2C800.3 621.2 801.6 623.9 802.1 625.2C803.3 628.6 803.1 632.7 803.6 636.4C804.2 640.9 804.5 645.4 805.2 649.8C805.8 654.3 807.5 663.2 807.5 663.2C807.5 663.2 808.7 655 810.6 653.2C811.1 652.7 812.8 651.6 812.8 651.6C812.8 651.6 814.4 654.2 815 655.4C816.1 657.6 816.7 660 817.7 662.2C818.7 664.3 820 666.3 821.1 668.4C822.3 670.8 823.3 673.2 824.4 675.6C825.5 677.8 826.6 680.1 827.8 682.3C828.8 684.2 829.9 686.1 831.1 687.9C832.2 689.4 833.2 691.3 834.5 692.4C835.4 693.1 837.9 694.2 837.9 694.2C837.9 694.2 839.7 693 840.5 692.4C841.4 691.7 843 690.1 843 690.1C843 690.1 844.6 691.9 845.2 692.8C846.3 694.4 846.9 696.3 847.9 698C848.8 699.4 849.7 701 850.8 702C851.6 702.6 853.5 703.6 853.5 703.6C853.5 703.6 854.9 701.1 855.8 700.2C856.5 699.4 857.5 698.5 858.4 698C859.3 697.5 860.9 697.2 861.4 696.8C862.4 696.1 863 692.4 863.6 690.1C864.3 687.6 864.5 684.9 865.2 682.3C865.6 680.8 866.5 677.8 866.5 677.8"/>
<path class="cv" d="M141.6 976.5C141.6 976.5 143.9 975.8 144.5 975.3C145.6 974.6 146.4 972.5 147.2 971.1C148.6 968.5 149.6 965.4 150.6 962.6C151.9 958.9 152.9 955.1 153.9 951.4C155.2 946.9 156.3 942.4 157.3 937.9C158.4 933.1 159.3 928.3 160.2 923.4C161.2 917.8 162.1 912.2 162.9 906.6C163.8 899.9 164.5 893.2 165.1 886.4C165.9 878.3 166.4 870 166.9 861.8C167.5 853.6 167.9 845.4 168.3 837.2C168.7 829.7 168.9 822.3 169.4 814.8C169.7 809.7 170.5 799.6 170.5 799.6C170.5 799.6 171.5 801 171.9 801.8C172.3 802.7 172.7 803.8 173 804.7C174.9 810.4 173.7 817.4 174.1 823.8C174.6 831.2 175 838.7 175.5 846.1C175.9 853.6 176.4 861.1 177 868.5C177.5 874.5 178 880.5 178.6 886.4C179.1 891.7 179.7 896.9 180.4 902.1C181 906.2 181.5 910.4 182.4 914.4C183 917.3 183.6 920.3 184.6 922.9C185.4 925 186.4 927.1 187.6 929C188.7 930.9 190.2 932.8 191.6 934.6C193.1 936.5 194.9 938.3 196.5 940.2C198 941.9 199.4 943.9 201 945.3C202.3 946.5 204 947.6 205.5 948.5C207.6 949.7 210 950.4 212.2 951.4C214.4 952.3 216.7 953.1 218.9 954.1C221.2 955 223.4 956 225.7 957C227.9 957.9 230.1 958.9 232.4 959.7C234.6 960.4 236.9 961.2 239.1 961.7C241.3 962.2 243.6 962.4 245.8 962.8C248.1 963.2 250.3 963.6 252.6 963.9C254.8 964.2 257.1 964.5 259.3 964.8C261.2 965.1 263 965.5 264.9 965.7C266.2 965.8 267.7 966.2 268.7 965.9C269.6 965.7 271 965 271.6 964.4C272.5 963.5 273.2 961.7 273.9 960.3C274.9 957.9 275.4 955.1 276.1 952.5C277 949.2 277.6 945.8 278.3 942.4C279.1 938.7 279.8 935 280.6 931.2C281.3 927.5 281.9 923.7 282.8 920C283.5 917.4 283.8 914.4 285.1 912.2C285.6 911.3 286.9 909.5 286.9 909.5C286.9 909.5 288.2 911 288.9 911.7C289.9 913 290.7 914.5 291.8 915.6C292.7 916.4 294 917.1 295.2 917.8C296.2 918.4 297.4 919 298.5 919.4C299.6 919.7 300.8 920 301.9 920C303 920.1 304.2 919.7 305.2 919.8C306.1 919.9 307.1 920.3 307.9 920.7C309 921.2 309.8 922.4 310.8 922.9C311.8 923.5 313.1 923.8 314.2 924.1C315.6 924.3 317.2 924.4 318.7 924.3C320.2 924.2 321.7 923.8 323.2 923.4C324.5 923 325.8 922.5 327 921.8C328.2 921.2 329.5 920.3 330.3 919.4C331.3 918.4 332 916.8 332.8 915.6C333.7 914.2 334.4 912.5 335.5 911.5C336.4 910.7 337.8 910.3 338.9 909.5C339.8 908.8 340.9 908.1 341.6 907.3C342.6 906.1 343.3 904.2 344 902.6C345 900.4 345.8 898.1 346.7 895.8C347.6 893.8 348.3 891.6 349.4 889.8C350.1 888.7 351.2 886.6 351.9 886.4C352.1 886.4 353.2 886.4 353.4 886.4C353.9 886.6 354.6 888.1 355.2 888.7C355.9 889.2 357.1 889.8 357.9 890C358.9 890.3 360.2 890.1 361.3 890C362.8 890 364.3 889.7 365.8 889.8C367.2 889.9 368.8 890.1 370.2 890.5C371.7 890.9 373.3 891.6 374.7 892.3C376.2 892.9 377.7 893.9 379.2 894.5C380.6 895 382.3 895.6 383.7 895.6C385.1 895.7 386.7 895.1 388.2 895C389.7 894.8 391.2 894.4 392.7 894.5C394.1 894.6 395.7 895.1 397.1 895.4C398.6 895.7 400.2 896.4 401.6 896.5C403 896.6 404.6 896.2 406.1 896.1C408 895.9 409.9 895.4 411.7 895.4C413.5 895.4 415.5 895.8 417.3 896.1C418.8 896.3 420.4 896.5 421.8 897C422.8 897.3 424.1 897.6 424.7 898.1C425.6 898.7 426.3 900.8 426.9 902.1C427.9 904.2 428.4 906.6 429.2 908.8C430.1 911.5 430.9 914.1 431.9 916.7C432.8 918.9 433.7 921.2 434.8 923.4C435.8 925.5 436.9 927.7 438.2 929.7C439.3 931.5 440.6 933.4 442 935C443.3 936.7 444.9 938.3 446.5 939.7C447.9 941.1 449.4 942.3 450.9 943.5C452.4 944.8 454 946 455.4 947.3C457 948.8 458.5 950.3 459.9 951.8C461.5 953.5 462.9 955.3 464.4 957C465.9 958.7 467.4 960.4 468.9 962.1C470 963.4 471.2 964.6 472.2 965.9C473.5 967.5 474.5 969.3 475.6 971.1C476.4 972.3 476.9 973.8 477.8 974.9C478.3 975.4 479.4 976.5 479.4 976.5M618.1 976.5C618.1 976.5 622 976.1 623.7 975.6C625.6 975 627.4 973.6 629.3 972.6C631.5 971.5 633.8 970.3 636 969.3C638.2 968.3 640.5 967.3 642.7 966.4C645 965.4 647.2 964.5 649.5 963.7C651.7 962.9 654 962.3 656.2 961.4C658 960.8 660 960.1 661.8 959.2C663.3 958.4 664.9 957.5 666.2 956.5C667.8 955.4 669.3 953.9 670.7 952.5C672.3 950.9 673.7 949.1 675.2 947.3C676.7 945.5 678.2 943.6 679.7 941.7C681.2 939.9 682.6 938 684.1 936.1C685.6 934.5 687.1 932.9 688.6 931.2C690.1 929.5 691.7 927.8 693.1 926.1C694.7 924.1 696.1 922.1 697.6 920C699.1 917.8 700.7 915.6 702 913.3C703.2 911.3 704.3 909.2 705.4 907C706.6 904.7 707.6 902.3 708.8 899.9C709.9 897.4 710.9 894.9 712.1 892.5C713.1 890.4 714.3 888.4 715.5 886.4C716.6 884.6 717.5 882.5 718.8 880.8C719.8 879.7 720.9 878.4 722.2 877.5C723 876.9 724.3 876 725.1 875.9C725.8 875.8 727.2 876.1 727.8 876.4C728.7 876.8 729.7 878.6 730.5 879.7C731.7 881.7 732.4 884.2 733.4 886.4C734.5 889.1 735.6 891.7 736.7 894.3C737.8 896.8 738.7 899.4 740.1 901.7C741.1 903.4 742.2 905.1 743.4 906.6C744.4 907.8 745.7 908.8 746.8 910C747.9 911.1 749.1 912.1 750.1 913.3C751.4 914.7 752.5 916.2 753.5 917.8C754.6 919.5 755.5 921.5 756.4 923.4C757.4 925.6 758.2 927.9 759.1 930.1C760 932.6 760.9 935 761.8 937.5C762.6 939.7 763.3 942 764.2 944.2C764.9 945.7 766.5 948.7 766.5 948.7C766.5 948.7 768.3 948.1 769.2 947.8C770.3 947.4 771.4 946.9 772.5 946.4C773.6 946 774.8 945.8 775.9 945.3C777 944.8 778.1 944.1 779.2 943.5C780.4 942.9 781.5 942 782.6 941.7C783.6 941.5 784.9 941.7 785.9 941.5C786.9 941.3 788.2 941 788.9 940.6C789.7 940.1 790.5 938.6 791.1 937.5C792.1 935.7 792.5 933.3 793.1 931.2C793.9 928.3 794.4 925.3 794.9 922.3C795.6 918.6 796.1 914.8 796.7 911.1C797.3 906.6 797.9 902.1 798.5 897.6C799 893.2 799.5 888.7 800 884.2C800.5 880.1 800.9 875.9 801.6 871.9C802.1 869.1 802.4 866.1 803.4 863.6C803.9 862.4 804.6 860.4 805.2 860C805.5 859.8 807.2 859.6 807.2 859.6C807.2 859.6 808.6 861.4 809.4 861.8C810 862.1 811 862.4 811.7 862.5C812.4 862.6 813.4 862.1 813.9 862.3C814.4 862.4 815.3 863 815.7 863.4C816.5 864.1 816.8 866.1 817.3 867.4C818.1 869.9 818.5 872.6 819.1 875.2C819.7 878.2 820.3 881.3 821.1 884.2C821.8 886.8 822.6 889.5 823.5 892C824.4 894.4 825.3 896.8 826.2 899.2C827.1 901.5 828 903.8 829.1 905.9C830.1 907.8 831.1 909.8 832.3 911.5C833.2 912.9 834.4 914.5 835.6 915.6C836.6 916.4 838 917.3 839.2 917.8C840.5 918.3 842.2 918.3 843.7 918.5C845.2 918.6 846.7 918.6 848.2 918.7C849.6 918.7 851.3 918.9 852.6 918.7C853.9 918.5 855.3 917.9 856.4 917.3C857.6 916.7 858.8 915.8 859.8 914.9C861.1 913.7 862.2 912.1 863.1 910.6C864 909.4 864.6 907.9 865.4 906.6C865.7 906 866.5 904.8 866.5 904.8"/>
<text class="n" transform="translate(71.2 77.5) scale(0.900 1)" text-anchor="middle">4</text>
<text class="n" transform="translate(70.8 169.2) scale(0.900 1)" text-anchor="middle">2</text>
<text class="n" transform="translate(71.1 260.2) scale(0.900 1)" text-anchor="middle">0</text>
<text class="n" transform="translate(70.4 288.2) scale(0.900 1)" text-anchor="middle">4</text>
<text class="n" transform="translate(70.4 379.5) scale(0.900 1)" text-anchor="middle">2</text>
<text class="n" transform="translate(71.6 442.4) scale(0.900 1)" text-anchor="middle">0</text>
<text class="n" transform="translate(73.6 476.3) scale(0.900 1)" text-anchor="middle">4</text>
<text class="n" transform="translate(73.8 567.4) scale(0.900 1)" text-anchor="middle">2</text>
<text class="n" transform="translate(71.1 623.9) scale(0.900 1)" text-anchor="middle">0</text>
<text class="n" transform="translate(70.4 652.3) scale(0.900 1)" text-anchor="middle">4</text>
<text class="n" transform="translate(70.4 743.2) scale(0.900 1)" text-anchor="middle">2</text>
<text class="n" transform="translate(74.1 799.3) scale(0.900 1)" text-anchor="middle">0</text>
<text class="n" transform="translate(71.6 830) scale(0.900 1)" text-anchor="middle">4</text>
<text class="n" transform="translate(70.8 897.9) scale(0.900 1)" text-anchor="middle">2</text>
<text class="n" transform="translate(71.6 989.5) scale(0.900 1)" text-anchor="middle">0</text>
<text class="m" x="73.7" y="1012.5">–</text>
<text class="n" transform="translate(89.7 1014.8) scale(0.900 1)">6</text>
<text class="m" x="202.7" y="1012.5">–</text>
<text class="n" transform="translate(218.7 1014.8) scale(0.900 1)">4</text>
<text class="m" x="331.8" y="1012.5">–</text>
<text class="n" transform="translate(347.8 1014.8) scale(0.900 1)">2</text>
<text class="n" transform="translate(479.6 1014.8) scale(0.900 1)" text-anchor="middle">0</text>
<text class="n" transform="translate(608.6 1014.8) scale(0.900 1)" text-anchor="middle">2</text>
<text class="n" transform="translate(737.7 1014.8) scale(0.900 1)" text-anchor="middle">4</text>
<text class="n" transform="translate(866.7 1014.8) scale(0.900 1)" text-anchor="middle">6</text>
<text class="g" transform="translate(144.8 103.2) scale(0.980 1)">(TDOS)</text>
<text class="e" x="429.6" y="109">E<tspan class="f" dx="-0.8" dy="10.5">F</tspan></text>
<text class="t" x="681.8" y="44.8">Ga<tspan class="s" dx="1" dy="15">1-x</tspan><tspan dy="-15">Al</tspan><tspan class="s" dx="1" dy="15">x</tspan><tspan dy="-15">As</tspan></text>
<text class="q" transform="translate(738.6 93.8) scale(0.928 1)" text-anchor="end">x = 0.0</text>
<text class="q" transform="translate(732.6 278.7) scale(0.928 1)" text-anchor="end">x = 0.25</text>
<text class="q" transform="translate(732.9 459) scale(0.928 1)" text-anchor="end">x = 0.50</text>
<text class="q" transform="translate(738.1 642.5) scale(0.928 1)" text-anchor="end">x = 0.75</text>
<text class="q" transform="translate(732.2 823) scale(0.928 1)" text-anchor="end">x = 1.0</text>
<text class="l" x="412.5" y="1065.9" textLength="157.6" lengthAdjust="spacingAndGlyphs">Energy (eV)</text>
<text class="l" x="-110.1" y="514" textLength="271" lengthAdjust="spacingAndGlyphs" transform="rotate(-90 25.4 514)">DOS (states/eV/cell)</text>
<text class="p" x="1.8" y="29.5">a</text>
</g>
<g id="panel-b">
<rect class="ax" x="1003.4" y="63.9" width="773.6" height="911.8"/>
<path class="ax" d="M1003.4 246.4H1777M1003.4 428.7H1777M1003.4 611.2H1777M1003.4 793.6H1777"/>
<path class="tk" d="M1132.3 63.9v6.6M1132.3 239.8v13.2M1132.3 422.1v13.2M1132.3 604.6v13.2M1132.3 787v13.2M1132.3 975.7v-6.6M1261.3 63.9v6.6M1261.3 239.8v13.2M1261.3 422.1v13.2M1261.3 604.6v13.2M1261.3 787v13.2M1261.3 975.7v-6.6M1390.2 63.9v6.6M1390.2 239.8v13.2M1390.2 422.1v13.2M1390.2 604.6v13.2M1390.2 787v13.2M1390.2 975.7v-6.6M1519.1 63.9v6.6M1519.1 239.8v13.2M1519.1 422.1v13.2M1519.1 604.6v13.2M1519.1 787v13.2M1519.1 975.7v-6.6M1648.1 63.9v6.6M1648.1 239.8v13.2M1648.1 422.1v13.2M1648.1 604.6v13.2M1648.1 787v13.2M1648.1 975.7v-6.6"/>
<path class="tk" d="M1003.4 155.2h12.8M1777 155.2h-12.8M1003.4 337.6h12.8M1777 337.6h-12.8M1003.4 519.9h12.8M1777 519.9h-12.8M1003.4 702.4h12.8M1777 702.4h-12.8M1003.4 839.1h12.8M1777 839.1h-12.8M1003.4 884.6h12.8M1777 884.6h-12.8M1003.4 930.2h12.8M1777 930.2h-12.8"/>
<path class="ef" d="M1389.2 67.4L1390.8 968.7"/>
<path class="cv" d="M1003.4 131.8C1003.4 131.8 1004.5 135.5 1005 137.4C1005.6 140 1006.1 142.6 1006.5 145.3C1007.2 149 1007.4 152.8 1007.9 156.5C1008.4 160.2 1008.8 164 1009.5 167.7C1010.1 171.5 1010.8 175.3 1011.7 179C1012.5 182.4 1013.4 185.8 1014.6 189.1C1015.7 191.9 1016.9 194.8 1018.4 197.4C1019.7 199.7 1021.2 202.2 1022.9 204.1C1024.5 206 1026.5 207.8 1028.5 209.3C1030.6 211 1032.9 212.4 1035.2 213.8C1037.8 215.4 1040.4 217 1043.1 218.3C1045.9 219.7 1049 221 1052 222.1C1055.3 223.3 1058.7 224.3 1062.1 225.3C1065.8 226.4 1069.6 227.4 1073.3 228.4C1077 229.4 1080.8 230.4 1084.5 231.1C1088.2 231.9 1092 232.4 1095.7 232.9C1099.5 233.5 1103.2 234 1106.9 234.5C1110.7 235 1114.4 235.6 1118.1 236.1C1121.9 236.5 1125.6 236.8 1129.3 237.2C1133.1 237.5 1136.8 237.8 1140.6 238.1C1144.3 238.4 1148 238.7 1151.8 239C1154.4 239.2 1157.2 239.9 1159.6 239.4C1160.5 239.2 1162 238.9 1162.5 238.5C1163.4 237.9 1164.1 235.6 1164.8 234C1165.7 231.6 1166.2 228.8 1166.8 226.2C1167.6 222.5 1168.3 218.7 1169 214.9C1169.9 210.4 1170.7 206 1171.5 201.4C1172.3 197 1172.9 192.4 1173.7 188C1174.4 184.2 1174.7 180.2 1176 176.7C1176.6 175.1 1177.1 172.7 1178.2 171.8C1178.7 171.3 1180.4 170.4 1180.4 170.4C1180.4 170.4 1182.1 171.6 1182.7 172.2C1183.8 173.4 1184.5 175.2 1185.4 176.7C1186.5 178.6 1187.5 180.5 1188.7 182.3C1189.8 183.9 1190.8 185.6 1192.1 186.8C1193.1 187.7 1194.3 188.8 1195.5 189.3C1196.5 189.8 1198 190.1 1199.3 190.2C1200.5 190.3 1202 190.2 1203.3 190C1204.8 189.8 1206.3 189.3 1207.8 188.9C1209.3 188.4 1210.9 188.1 1212.3 187.5C1213.6 186.9 1215.3 186.2 1216.3 185.3C1217.3 184.4 1218.2 182.9 1219 181.7C1219.8 180.4 1220.3 178.7 1221.2 177.9C1221.9 177.3 1223.2 176.9 1223.9 176.3C1224.8 175.5 1225.7 174.4 1226.4 173.4C1227.4 171.8 1227.9 169.6 1228.6 167.7C1229.3 166 1229.6 163.8 1230.6 162.6C1231.2 161.9 1232.4 160.7 1232.9 160.5C1233.3 160.4 1234.6 160.7 1235.3 161C1236.3 161.3 1237.1 162.3 1238 162.6C1239 162.9 1240.3 162.9 1241.4 163C1242.9 163.2 1244.5 163 1245.9 163.2C1247.4 163.5 1248.9 164.1 1250.4 164.6C1251.9 165.1 1253.3 165.8 1254.8 166.4C1256.3 166.9 1257.8 167.6 1259.3 168C1261.1 168.4 1263.1 168.5 1264.9 168.9C1266.8 169.2 1268.7 169.7 1270.5 170.2C1272.4 170.7 1274.2 171.5 1276.1 172C1278 172.5 1279.9 173 1281.7 173.4C1284 173.8 1286.2 174.1 1288.5 174.5C1290.7 174.9 1292.9 175.3 1295.2 175.6C1297.4 175.9 1299.7 176.1 1301.9 176.5C1304.2 176.9 1306.4 177.4 1308.6 178.1C1310.5 178.6 1312.8 179.1 1314.2 180.1C1315.1 180.7 1316.2 181.9 1316.9 182.8C1317.9 184.2 1318.5 186.2 1319.2 188C1320.1 190.2 1320.7 192.5 1321.6 194.7C1322.6 197 1323.5 199.4 1324.8 201.4C1325.9 203.4 1327.4 205.3 1328.8 207.1C1330.5 209.3 1332.4 211.4 1334.4 213.4C1336.5 215.5 1338.8 217.6 1341.1 219.4C1343.6 221.3 1346.3 223.1 1349 224.6C1351.5 226 1354.2 227.2 1356.8 228.4C1359 229.4 1361.4 230.3 1363.5 231.3C1365.8 232.5 1368 233.9 1370.3 235.2C1372.5 236.4 1374.7 237.7 1377 239C1379.2 240.2 1381.5 241.4 1383.7 242.6C1385.9 243.7 1390.2 246 1390.2 246M1456.8 246.4C1456.8 246.4 1461.4 246 1463.5 245.5C1465.8 245 1468.1 244 1470.2 243C1472.1 242.2 1474.2 241.4 1475.8 240.3C1477.4 239.3 1479 237.7 1480.3 236.3C1482 234.4 1483.3 232.1 1484.8 230C1486.3 227.8 1487.7 225.6 1489.2 223.5C1490.7 221.4 1492.2 219.3 1493.7 217.2C1495.5 214.7 1497.4 212.2 1499.3 209.8C1501.2 207.4 1503.1 205 1504.9 202.6C1506.8 200 1508.7 197.4 1510.5 194.7C1512.4 191.8 1514.3 188.8 1516.1 185.7C1517.7 182.9 1519.2 180.1 1520.5 177.2C1521.7 174.7 1522.9 172.1 1523.9 169.5C1525.1 166.4 1525.9 163.1 1526.8 159.9C1527.8 156.2 1528.5 152.4 1529.5 148.6C1530.2 145.9 1530.7 142.9 1531.7 140.3C1532.3 139 1532.8 137.3 1533.7 136.3C1534.2 135.7 1535.5 134.7 1535.5 134.7C1535.5 134.7 1536.9 135.7 1537.3 136.3C1538.5 137.6 1538.9 140 1539.6 141.9C1540.6 144.8 1541.3 147.9 1542.2 150.9C1543.2 153.9 1544.1 156.9 1545.1 159.9C1546.1 162.7 1547 165.5 1548.1 168.2C1549 170.7 1550 173.2 1551.2 175.6C1552.2 177.7 1553.4 179.7 1554.5 181.7C1555.7 183.6 1556.9 185.4 1558.1 187.3C1559.4 189.4 1560.6 191.5 1561.9 193.6C1563.1 195.5 1564.4 197.4 1565.7 199.2C1567 200.9 1568.3 202.6 1569.7 204.1C1570.9 205.4 1572.2 206.6 1573.5 207.7C1574.6 208.7 1575.7 209.7 1576.9 210.4C1577.7 210.9 1579.4 211.8 1579.4 211.8C1579.4 211.8 1581 210.6 1581.6 210C1582.7 208.8 1583 206.5 1583.8 204.8C1584.5 203.5 1585.1 201.7 1586.1 201C1586.6 200.6 1587.8 199.9 1588.3 199.9C1588.8 199.8 1590.1 200.7 1591 201C1591.9 201.3 1593.2 202 1593.7 201.9C1594.1 201.8 1595.4 200.8 1595.9 200.3C1597 199.2 1597.4 196.6 1598.1 194.7C1598.9 192.6 1599.4 190.3 1600.4 188.4C1601 187.3 1602.6 185 1602.6 185C1602.6 185 1604.1 185.1 1604.4 185.3C1605.1 185.6 1605.9 187.5 1606.6 188.6C1607.6 190.1 1608.5 191.7 1609.5 193.1C1610.5 194.5 1611.7 195.9 1612.9 197C1613.9 197.8 1615.1 198.7 1616.2 199.2C1617.2 199.6 1618.6 199.9 1619.6 199.9C1620.6 199.8 1621.9 199.2 1623 198.8C1624.1 198.2 1625.3 197.3 1626.3 196.5C1627.5 195.5 1628.7 194.3 1629.7 193.1C1630.7 191.9 1631.6 190.5 1632.3 189.1C1633.4 187.1 1634 184.6 1634.6 182.3C1635.4 179.1 1635.9 175.6 1636.4 172.2C1637.2 167 1637.6 161.7 1638.2 156.5C1638.8 150.5 1639.2 144.5 1639.7 138.5C1640.2 133.3 1640.6 128 1641.3 122.8C1641.7 119.4 1641.3 115.1 1642.8 112.7C1643.3 112 1644.6 110.4 1644.6 110.4C1644.6 110.4 1645.6 114.2 1646 116C1646.8 120.4 1646.9 125 1647.3 129.5C1647.8 134.8 1648.2 140 1648.7 145.3C1649.1 150.1 1649.6 155 1650.2 159.9C1650.7 163.2 1650.6 167.1 1651.8 170C1652.3 171.3 1653.2 173.5 1654 174C1654.6 174.4 1656 174.7 1656.9 174.9C1658 175.2 1659.3 175.2 1660.3 175.6C1661.4 176 1662.5 176.8 1663.6 177.4C1664.9 178.1 1666.2 178.8 1667.4 179.4C1668.8 180.1 1670.1 180.9 1671.5 181.4C1672.5 181.8 1673.7 182 1674.8 182.3C1675.9 182.7 1677.4 183 1678.2 183.5C1679.4 184.2 1680.3 186.6 1681.5 188C1682.5 189 1683.7 190.1 1684.9 190.9C1685.9 191.5 1687.1 192 1688.2 192.5C1689.3 192.9 1690.7 193.8 1691.6 193.8C1692.3 193.8 1693.9 193.3 1694.5 192.9C1695.5 192.3 1696.4 190.4 1697.2 189.1C1698.4 187 1699.2 184.6 1700.1 182.3C1701 180.1 1701.8 177.8 1702.8 175.6C1703.6 173.5 1704.1 170.9 1705.5 169.3C1706 168.6 1707.2 167.4 1707.7 167.3C1708.1 167.2 1709.5 167.5 1709.9 167.7C1710.9 168.2 1711.9 170.7 1712.8 172.2C1713.8 173.9 1714.5 176 1715.7 177.2C1716.6 178 1718.9 179.4 1718.9 179.4C1718.9 179.4 1721.2 178.5 1722.2 177.9C1723.4 177.1 1724.5 175.9 1725.6 174.9C1726.8 173.8 1727.9 172.5 1729.2 171.6C1730.1 170.8 1732.3 169.5 1732.3 169.5C1732.3 169.5 1734.5 170.5 1735.2 171.1C1736.4 172.1 1737.1 174.1 1738.1 175.6C1739.1 177.1 1740.1 178.7 1741.2 180.1C1742.3 181.5 1743.4 183 1744.6 184.1C1745.6 185.1 1746.7 186.2 1747.9 186.8C1748.8 187.3 1750.1 187.5 1750.8 188C1751.9 188.7 1752.7 190.3 1753.7 191.3C1754.7 192.4 1755.8 193.6 1756.9 194.3C1757.9 194.9 1759.3 195.4 1760.5 195.6C1761.6 195.8 1763 195.6 1764.3 195.6C1765.4 195.6 1766.6 195.4 1767.6 195.6C1768.7 195.8 1769.9 196.4 1771 197C1772.1 197.5 1773.2 198.1 1774.3 198.8C1775.2 199.3 1777 200.3 1777 200.3"/>
<path class="cv" d="M1003.4 366.1C1003.4 366.1 1005 363.9 1005.6 362.7C1006.6 361 1007.3 359 1007.9 357.1C1008.8 354.3 1009.2 351.2 1009.7 348.2C1010.4 343.7 1010.8 339.2 1011.2 334.8C1011.9 328.8 1012.3 322.8 1012.8 316.9C1013.4 310.2 1013.6 303.4 1014.4 296.7C1014.8 293.4 1015.2 290 1015.7 286.7C1016 284.9 1016.6 281.5 1016.6 281.5C1016.6 281.5 1017.4 286.4 1017.7 288.9C1018.2 292.3 1018.6 295.6 1019.1 299C1019.5 302.7 1019.9 306.4 1020.4 310.1C1020.8 313.1 1021 316.2 1021.8 319.1C1022.1 320.6 1023.1 323.6 1023.1 323.6C1023.1 323.6 1024.1 321.8 1024.4 320.9C1025.5 318.4 1025.4 315.2 1025.8 312.4C1026.4 307.9 1026.6 303.4 1027.1 299C1027.5 295.6 1027.8 292.2 1028.5 288.9C1028.8 287.2 1029.7 283.7 1029.7 283.7C1029.7 283.7 1030.4 289.4 1030.7 292.3C1031.3 297.5 1031.6 302.7 1032.1 307.9C1032.5 313.1 1032.9 318.4 1033.4 323.6C1033.8 328 1034.2 332.5 1034.7 337C1035.2 341.1 1035.7 345.2 1036.3 349.3C1036.8 352.7 1037.3 356.1 1038.1 359.4C1038.7 362.1 1039.4 365 1040.3 367.6C1041.1 369.7 1041.9 372.1 1043 373.9C1043.9 375.3 1045.1 376.9 1046.4 377.9C1047.6 379 1049.3 379.9 1050.9 380.6C1052.6 381.4 1054.6 381.8 1056.5 382.4C1058.2 382.9 1060 383.9 1061.6 384C1062.7 384 1064.1 383.6 1065.4 383.5C1066.9 383.4 1068.4 383.4 1069.9 383.3C1071.4 383.2 1072.9 383.1 1074.4 383.1C1075.6 383.1 1077.1 383 1078.2 383.3C1079.1 383.6 1080.3 384.4 1081.1 385.1C1082.2 386.1 1083 387.8 1084 389.1C1085 390.6 1085.9 392.3 1087.1 393.6C1088.2 394.7 1089.4 395.9 1090.7 396.7C1092.2 397.7 1094 398.5 1095.6 399.2C1097.7 400 1100.1 400.6 1102.3 401.2C1104.6 401.8 1106.8 402.3 1109.1 403C1111.3 403.7 1113.5 404.5 1115.8 405.2C1118 406 1120.2 406.7 1122.5 407.5C1124.7 408.2 1126.9 408.9 1129.2 409.5C1131.4 410.1 1133.9 410.1 1135.9 411C1137 411.5 1138.1 412.5 1139.3 413C1140.3 413.6 1141.5 414.1 1142.6 414.4C1144 414.7 1145.6 414.6 1147.1 414.6C1149 414.6 1150.9 414.4 1152.7 414.2C1154.6 413.9 1156.5 413.6 1158.3 413.3C1160.2 412.9 1162 412.4 1163.9 411.9C1165.6 411.5 1167.6 411.1 1169 410.4C1170.1 409.8 1171.4 408.9 1172.2 408.1C1173.3 406.9 1174 404.7 1174.6 403C1175.7 400.2 1176.2 397 1176.9 394C1177.8 389.6 1178.5 385.1 1179.1 380.6C1179.9 375 1180.5 369.4 1181.1 363.8C1181.8 357.9 1182.4 351.9 1182.9 345.9C1183.5 340 1184 334 1184.5 328C1184.9 322.8 1185.2 317.6 1185.8 312.4C1186.2 309.6 1187 303.9 1187 303.9C1187 303.9 1188 303.5 1188.5 303.4C1189 303.4 1190.1 303.4 1190.1 303.4C1190.1 303.4 1191 307.2 1191.4 309C1192 311.3 1192.3 313.6 1193 315.7C1193.5 317.5 1193.9 319.5 1194.8 320.9C1195.4 321.8 1196.2 323 1197 323.6C1197.8 324.1 1199.2 324.2 1200.2 324.7C1201.2 325.1 1202.3 325.7 1203.1 326.3C1204.3 327.2 1205.4 328.9 1206.4 330.3C1207.6 331.9 1208.6 333.6 1209.8 335.2C1210.7 336.6 1211.5 338.3 1212.7 339.2C1213.4 339.8 1215.4 340.8 1215.4 340.8C1215.4 340.8 1217.4 339.5 1218.3 338.8C1219.4 337.8 1220.5 336.5 1221.4 335.2C1222.5 333.7 1223.4 331.9 1224.3 330.3C1225.4 328.4 1226.3 326.6 1227.2 324.7C1228.3 322.7 1229.3 320.7 1230.4 318.6C1231.4 316.7 1232.3 314.8 1233.3 312.8C1234 311.4 1234.6 309.7 1235.5 308.6C1236.2 307.8 1237.4 307.1 1238.2 306.3C1239 305.6 1239.9 304.9 1240.4 304.1C1241.2 303 1241.8 301.4 1242.2 300.1C1243 298 1243.3 295.6 1243.8 293.4C1244.4 290.8 1244.8 288.1 1245.4 285.5C1245.8 283.7 1246.7 280 1246.7 280L1248.5 279.3C1248.5 279.3 1249.7 280.5 1250.1 281.1C1251.3 282.9 1251.2 286.3 1251.6 288.9C1252.2 292.2 1252.5 295.6 1253 299C1253.4 302 1253.7 305 1254.3 307.9C1255 311 1256.7 317.1 1256.7 317.1C1256.7 317.1 1258.3 308.7 1259 304.6C1259.6 301.6 1259.9 298.6 1260.6 295.6C1261 293.6 1261.2 291.2 1262.2 289.6C1262.6 288.8 1264 287.3 1264 287.3C1264 287.3 1265.7 287.9 1266.2 288.2C1267.1 288.9 1267.7 290.9 1268.4 292.3C1269.2 293.9 1269.9 295.6 1270.7 297.2C1271.4 298.5 1272.9 301.2 1272.9 301.2C1272.9 301.2 1274.6 300 1275.1 299.4C1276 298.4 1276.1 295.6 1276.9 294.9C1277.3 294.7 1278.7 294 1278.7 294C1278.7 294 1279.9 295.1 1280.3 295.6C1281.3 296.9 1281.3 299.3 1281.9 301.2C1282.5 303.4 1283 305.7 1283.7 307.9C1284.2 309.8 1284.5 312.1 1285.4 313.5C1286 314.2 1286.9 315.2 1287.7 315.7C1288.3 316.2 1289.5 316.4 1289.9 316.9C1290.6 317.5 1291 319.1 1291.5 320.2C1292 321.3 1293.1 323.6 1293.1 323.6L1294.8 323.6C1294.8 323.6 1295.9 319.8 1296.4 318C1297 315.7 1297.2 313.2 1298.2 311.3C1298.7 310.4 1300 308.6 1300 308.6C1300 308.6 1301.5 308.8 1302 309C1302.8 309.4 1303.5 310.8 1304.2 311.3C1304.8 311.6 1305.8 311.7 1306.5 311.9C1307.2 312.2 1308.1 312.6 1308.7 313.1C1309.7 313.8 1310.4 315.9 1311.2 316.2C1311.6 316.4 1313.4 316.4 1313.4 316.4C1313.4 316.4 1314.6 314.3 1315.4 313.5C1315.8 313.1 1316.8 312.4 1316.8 312.4C1316.8 312.4 1317.9 316.9 1318.3 319.1C1319.1 323.1 1319.4 327.3 1319.9 331.4C1320.4 335.5 1320.8 339.6 1321.5 343.7C1321.9 346.3 1322 349.3 1323 351.5C1323.6 352.6 1325.1 354.9 1325.1 354.9C1325.1 354.9 1326.4 353.1 1326.9 352.2C1327.8 350.4 1327.9 348 1328.4 345.9C1329 343.7 1329.2 341.3 1330 339.2C1330.5 338 1331.8 335.6 1331.8 335.6L1333.6 335.6C1333.6 335.6 1334.7 337.3 1335.1 338.1C1336.4 340.6 1336.2 344.1 1336.7 347.1C1337.3 350.8 1337.8 354.5 1338.5 358.2C1339 361.2 1339.5 364.3 1340.3 367.2C1340.9 369.4 1341.5 371.8 1342.5 373.9C1343.3 375.4 1344.2 377 1345.2 378.4C1346.2 379.8 1347.4 381.1 1348.6 382.4C1349.8 383.7 1351.2 384.9 1352.4 386.2C1353.8 387.8 1355 389.5 1356.4 391.1C1357.9 392.9 1359.4 394.6 1360.9 396.3C1362.4 397.9 1363.8 399.6 1365.4 401.2C1366.8 402.6 1368.3 403.9 1369.8 405.2C1371.3 406.4 1372.9 407.4 1374.3 408.6C1375.6 409.6 1376.9 410.7 1378.1 411.9C1379.4 413.2 1380.5 414.6 1381.7 416C1382.8 417.2 1383.9 418.4 1384.8 419.8C1385.9 421.2 1386.8 422.7 1387.7 424.2C1388.6 425.6 1390.2 428.3 1390.2 428.3M1461.3 428.7C1461.3 428.7 1465.2 428.2 1466.9 427.6C1468.8 426.9 1470.7 425.8 1472.5 424.7C1474 423.7 1475.6 422.7 1477 421.5C1478.5 420.2 1480.1 418.7 1481.4 417.1C1482.7 415.5 1483.7 413.7 1484.8 411.9C1486 410 1487 407.9 1488.1 405.9C1489.3 403.8 1490.4 401.7 1491.5 399.6C1492.6 397.4 1493.8 395.2 1494.8 392.9C1496 390.3 1497 387.7 1498.2 385.1C1499.2 382.8 1500.3 380.6 1501.5 378.4C1502.6 376.5 1503.7 374.6 1504.9 372.8C1506 371.1 1507.2 369.5 1508.3 367.9C1509.5 365.9 1510.5 363.7 1511.6 361.6C1512.8 359.4 1513.8 357.1 1515 354.9C1516.1 352.6 1517.3 350.5 1518.3 348.2C1519.4 345.6 1520.3 343 1521.2 340.3C1522.1 337.7 1523 335.1 1523.9 332.5C1524.8 329.9 1525.8 327.3 1526.6 324.7C1527.5 321.7 1528.3 318.7 1529 315.7C1529.9 312.4 1530.6 309 1531.3 305.7C1532 302.3 1532.6 299 1533.3 295.6C1533.9 293 1534.4 290.3 1535.1 287.8C1535.6 285.9 1535.9 283.6 1536.9 282.2C1537.4 281.4 1538.9 280 1538.9 280C1538.9 280 1540.3 281 1540.9 281.5C1541.9 282.5 1542.6 283.9 1543.4 285.1C1544.4 286.9 1545.4 288.8 1546.3 290.7C1547.3 292.9 1548.3 295.1 1549.2 297.4C1550.1 299.8 1551 302.2 1551.9 304.6C1552.8 307.2 1553.7 309.8 1554.5 312.4C1555.4 315 1556.2 317.6 1557 320.2C1557.8 323.2 1558.5 326.2 1559.2 329.2C1560 332.1 1560.7 335.1 1561.5 338.1C1562.1 340.6 1562.6 343.2 1563.5 345.5C1564 346.8 1564.5 348.6 1565.3 349.3C1565.7 349.7 1567 350.3 1567.5 350.4C1568.2 350.5 1569.4 349.8 1570.4 349.5C1571.4 349.2 1572.5 348.8 1573.5 348.6C1574.5 348.4 1575.6 348.1 1576.4 348.2C1577.3 348.2 1578.4 348.7 1579.1 349.1C1580 349.6 1580.8 350.7 1581.6 351.5C1582.5 352.6 1583.4 353.8 1584.3 354.9C1585 355.8 1585.7 356.8 1586.5 357.6C1587.2 358.2 1588.7 359.4 1588.7 359.4C1588.7 359.4 1590.4 358.2 1591 357.6C1592 356.5 1592.5 354.8 1593.2 353.3C1594 351.6 1594.7 349.9 1595.4 348.2C1596.2 346.7 1596.7 344.9 1597.7 343.7C1598.3 342.9 1599.2 341.9 1599.9 341.5C1600.6 341.1 1601.9 341.2 1602.6 340.8C1603.4 340.4 1604.2 339.4 1604.8 338.6C1605.6 337.6 1605.9 336.1 1606.6 335.2C1607.1 334.6 1608.4 333.6 1608.4 333.6C1608.4 333.6 1609.4 335.2 1609.8 335.9C1611 338.3 1610.5 341.9 1611.1 344.8C1611.6 347.1 1611.8 349.8 1612.9 351.5C1613.4 352.4 1614.3 353.5 1615.1 354.2C1615.9 354.9 1616.9 355.5 1617.8 356C1618.6 356.4 1619.9 357.1 1620.5 357.1C1621.1 357.1 1622.6 356.5 1623.2 356C1624.1 355.3 1625 353.5 1625.6 352.2C1626.7 350.2 1627.2 347.7 1627.9 345.5C1628.8 342.3 1629.4 339.1 1630.1 335.9C1631 331.4 1631.7 326.9 1632.3 322.5C1633 317.6 1633.6 312.8 1634.1 307.9C1634.7 303.1 1635.2 298.2 1635.7 293.4C1636.2 288.5 1636.7 283.7 1637.3 278.8C1637.7 275.1 1638.1 271.4 1638.6 267.6C1639.1 264.1 1639.7 260.5 1640.2 256.9C1640.6 253.9 1641.4 247.9 1641.4 247.9C1641.4 247.9 1642.3 250.9 1642.6 252.4C1643.4 255.9 1643.6 259.6 1644 263.2C1644.4 266.9 1644.4 270.7 1645.1 274.4C1645.4 276.2 1645.7 278.3 1646.4 280C1646.9 280.9 1648.2 282.9 1648.2 282.9C1648.2 282.9 1649.4 280.1 1650 278.8C1650.6 277.7 1651 276.2 1651.8 275.5C1652.2 275.1 1653.6 274.4 1653.6 274.4C1653.6 274.4 1654.9 276.6 1655.4 277.7C1656.2 279.7 1656.5 282.2 1656.9 284.4C1657.6 287.4 1657.9 290.4 1658.5 293.4C1659.1 296.4 1659.6 299.4 1660.3 302.3C1660.8 304.4 1661.1 306.9 1662.1 308.6C1662.6 309.5 1663.5 310.8 1664.3 311.3C1664.9 311.6 1666.1 311.8 1667 311.9C1667.9 312.1 1669 312.1 1669.7 312.4C1670.7 312.8 1671.7 314.3 1672.6 315.3C1673.7 316.6 1674.7 318.1 1675.5 319.5C1676.6 321.5 1677.3 323.7 1678.2 325.8C1679.1 328 1679.7 330.5 1680.9 332.5C1681.6 333.8 1682.8 335.1 1683.8 336.3C1684.7 337.5 1685.7 338.6 1686.7 339.7C1687.6 340.7 1688.4 342.1 1689.4 342.6C1689.9 342.9 1691.6 343.3 1691.6 343.3C1691.6 343.3 1693.2 342.1 1693.8 341.5C1694.9 340.3 1695.8 338.5 1696.5 337C1697.7 334.6 1698.2 331.8 1699 329.2C1699.8 326.2 1700.5 323.2 1701.2 320.2C1702 317.2 1702.6 314.2 1703.4 311.3C1704.1 309 1704.4 306.6 1705.5 304.6C1705.9 303.6 1707.2 301.6 1707.2 301.6C1707.2 301.6 1708.4 303 1709 303.4C1709.7 303.9 1711.3 304.6 1711.3 304.6C1711.3 304.6 1712.5 303.4 1712.8 303C1714 301.5 1713.5 298.1 1713.9 295.6C1714.6 292 1716 284.8 1716 284.8C1716 284.8 1717.2 290.5 1717.8 293.4C1718.3 296.3 1718.6 299.3 1719.1 302.3C1719.6 305.7 1720.1 309 1720.7 312.4C1721.1 315 1721.4 317.7 1722.2 320.2C1722.7 321.7 1724 324.7 1724 324.7C1724 324.7 1725.4 323.9 1725.8 323.6C1726.8 322.7 1727 320.5 1727.8 319.1C1728.5 317.9 1729.2 316.4 1730 315.7C1730.6 315.3 1731.5 315 1732.3 314.6C1733 314.2 1734 313.9 1734.5 313.5C1735.3 312.9 1735.6 311.2 1736.3 310.1C1736.8 309.4 1738.1 307.9 1738.1 307.9C1738.1 307.9 1739.1 312.4 1739.4 314.6C1740.1 318.3 1740.3 322.1 1740.8 325.8C1741.3 329.9 1741.6 334 1742.3 338.1C1742.8 340.7 1742.8 343.8 1743.9 345.9C1744.4 346.8 1745.7 348.6 1745.7 348.6C1745.7 348.6 1747 346.9 1747.5 345.9C1748.2 344.7 1748.5 342.8 1749.3 342.1C1749.7 341.7 1751.5 341 1751.5 341C1751.5 341 1753.1 342 1753.7 342.6C1754.7 343.4 1755.5 344.6 1756.4 345.3C1757.2 345.8 1758.3 346.4 1759.1 346.6C1759.9 346.8 1761.1 346.5 1762 346.6C1762.9 346.8 1763.9 347.5 1764.7 347.5C1765.4 347.5 1766.7 347.3 1767.2 347.1C1767.9 346.7 1768.7 345.1 1769.4 344.1C1770.2 343.1 1770.9 341.2 1771.6 340.8C1772.1 340.6 1773.4 340.2 1773.9 340.3C1774.2 340.4 1775 341.1 1775.4 341.5C1776 342 1777 343.7 1777 343.7"/>
<path class="cv" d="M1003.4 604.9C1003.4 604.9 1004.9 602.4 1005.6 601.1C1006.5 599.6 1007.3 598 1008.3 596.6C1009.1 595.4 1010 594.2 1011 593.2C1011.9 592.4 1013 591.7 1013.9 591C1014.9 590.2 1016 589.6 1016.8 588.8C1017.8 587.8 1018.8 586.5 1019.5 585.4C1020.6 583.5 1021.2 580.9 1021.8 578.7C1022.6 575.4 1023 571.9 1023.5 568.5C1024.2 564.1 1024.6 559.6 1025.1 555.1C1025.7 549.8 1026.2 544.6 1026.7 539.4C1027.3 533.4 1027.8 527.4 1028.5 521.4C1029 516.5 1029.4 511.6 1030.3 506.8C1030.8 503.8 1031.5 500.8 1032.3 497.8C1033 495.2 1033.8 492.6 1034.5 490C1035.1 487.9 1035.5 485.7 1036.3 483.7C1036.6 482.8 1037.4 481 1037.4 481C1037.4 481 1038.6 482.2 1039 482.8C1039.5 483.6 1040 484.6 1040.3 485.5C1041.4 488.1 1041.1 491.5 1041.5 494.5C1042 499 1042.3 503.5 1042.8 507.9C1043.2 512.4 1043.7 516.9 1044.1 521.4C1044.6 525.9 1045.1 530.4 1045.7 534.9C1046.2 538.6 1046.8 542.4 1047.5 546.1C1048.1 549.5 1048.8 552.9 1049.7 556.2C1050.4 558.7 1051 561.3 1052 563.6C1052.6 565.1 1053.2 567 1054.2 568.1C1054.8 568.7 1056.5 569.9 1056.5 569.9C1056.5 569.9 1058.1 569.1 1058.7 568.5C1059.7 567.7 1060.5 566.3 1061.4 565.2C1062.4 563.7 1063.5 562.2 1064.3 560.7C1065.2 558.9 1065.7 556.9 1066.5 555.1C1067.2 553.4 1067.8 551.5 1068.8 550.1C1069.2 549.5 1070.3 548.3 1070.3 548.3C1070.3 548.3 1071.6 549.5 1072.1 550.1C1073.2 551.4 1073.9 553 1074.8 554.4C1075.8 556 1076.7 557.6 1077.7 559.1C1078.8 560.8 1079.8 562.7 1081.1 564.1C1082 565.1 1083.3 566.1 1084.4 567C1085.8 567.9 1087.4 568.6 1088.9 569.4C1090.8 570.4 1092.6 571.5 1094.5 572.4C1096.3 573.2 1098.2 574 1100.1 574.8C1102 575.6 1103.8 576.4 1105.7 577.1C1107.2 577.6 1108.9 577.9 1110.2 578.7C1111.2 579.2 1112.2 580.1 1113.1 580.9C1114 581.7 1114.8 582.8 1115.8 583.6C1117 584.6 1118.7 585.3 1120.2 586.1C1122.4 587.1 1124.7 588 1127 589C1129.2 589.9 1131.4 590.8 1133.7 591.7C1135.9 592.5 1138.1 593.3 1140.4 593.9C1142.6 594.5 1144.9 595 1147.1 595.5C1149.3 595.9 1151.6 596.3 1153.8 596.6C1156 596.9 1158.3 597.1 1160.5 597.3C1162.8 597.5 1165 597.6 1167.3 597.7C1169.5 597.9 1171.8 598.2 1174 598.2C1175.8 598.2 1177.7 598 1179.6 597.7C1181.1 597.5 1183.1 597.2 1184 596.6C1184.9 596 1186.1 594.4 1186.7 593.2C1187.8 591.4 1188.2 588.8 1188.7 586.5C1189.7 582.8 1190.2 579 1190.8 575.3C1191.5 570.8 1192 566.3 1192.5 561.8C1193.1 557.3 1193.6 552.8 1194.1 548.3C1194.6 543.9 1195.2 539.4 1195.7 534.9C1196.2 530.4 1196.6 525.9 1197.2 521.4C1197.7 518.4 1197.9 515.3 1198.8 512.4C1199.2 511.1 1199.6 509.2 1200.4 508.4C1200.7 508 1201.9 507.3 1201.9 507.3C1201.9 507.3 1203.2 508.9 1203.7 509.7C1204.7 511.1 1205.5 512.6 1206.4 514C1207.3 515.2 1208.3 516.5 1209.3 517.6C1210.3 518.7 1211.4 519.7 1212.5 520.7C1213.6 521.9 1214.9 523.1 1215.8 524.3C1217 525.8 1217.8 527.6 1218.7 529.3C1219.7 531.1 1220.5 533 1221.4 534.9C1222.2 536.4 1222.9 538.1 1223.9 539.4C1224.5 540.2 1226.1 541.6 1226.1 541.6C1226.1 541.6 1228 541.3 1228.4 541.2C1229.1 540.8 1229.9 538.2 1230.6 536.7C1231.5 534.7 1232.1 532.5 1232.8 530.4C1233.6 528.2 1234.3 525.9 1235.1 523.7C1235.8 521.4 1236.6 519.2 1237.3 516.9C1238.1 514.7 1238.7 512.4 1239.6 510.2C1240.2 508.5 1240.6 506.5 1241.6 505.2C1242 504.6 1243.4 503.5 1243.4 503.5C1243.4 503.5 1244.5 505 1245.2 505.7C1245.7 506.3 1246.2 507.2 1246.7 507.5C1247.1 507.7 1248.3 507.9 1248.3 507.9C1248.3 507.9 1249.2 504.9 1249.6 503.5C1250.3 501.2 1250.8 498.9 1251.6 496.7C1252.3 495 1252.9 493.1 1253.9 491.8C1254.5 490.9 1255.5 489.8 1256.3 489.3C1257.1 488.9 1258.6 488.3 1259 488.4C1259.5 488.5 1260.7 489.4 1261.3 490C1262.3 491 1262.8 493 1263.5 494.5C1264.3 496 1264.8 498.2 1265.7 499C1266.2 499.4 1268 500.1 1268 500.1C1268 500.1 1269.9 499 1270.7 498.3C1271.8 497.3 1272.5 495.7 1273.6 494.5C1274.4 493.5 1275.5 492 1276.3 491.8C1276.8 491.6 1278.2 491.6 1278.7 491.8C1279.5 492 1280.5 493.3 1281.4 494C1282.3 494.7 1283.2 495.7 1284.1 496C1284.8 496.3 1286.1 496.1 1287 496.3C1288 496.5 1289.2 496.9 1289.9 497.4C1290.9 498 1291.8 499.4 1292.6 500.5C1293.6 502 1294.4 503.7 1295.3 505.2C1296.2 506.9 1296.8 508.6 1297.8 510.2C1298.5 511.5 1299.5 513.5 1300.4 514C1301 514.3 1302.6 514.7 1303.3 514.7C1304.1 514.6 1305.4 514 1306 513.6C1307 512.9 1307.7 511.1 1308.7 510.2C1309.5 509.5 1310.7 508.7 1311.6 508.4C1312.6 508.1 1313.9 508.1 1315 508.2C1316.1 508.2 1317.7 508.2 1318.3 508.6C1319 509 1320 510.4 1320.6 511.3C1321.6 512.9 1322 515.1 1322.8 516.9C1323.7 519 1324.7 521.1 1325.7 523.2C1326.6 525.1 1327.4 527 1328.4 528.8C1329.1 530.1 1329.7 531.6 1330.7 532.6C1331 533 1331.8 533.8 1331.8 533.8C1331.8 533.8 1333.1 528.5 1333.6 525.9C1334.6 520.1 1334.3 513.9 1334.7 507.9C1335.1 502 1335.5 496 1336 490C1336.4 485.9 1336.8 481.7 1337.4 477.6C1337.7 475.1 1338.6 470.2 1338.6 470.2C1338.6 470.2 1339.1 483.4 1339.4 490C1339.7 496 1340 502 1340.3 507.9C1340.6 513.9 1340.8 519.9 1341.2 525.9C1341.5 531.1 1341.7 536.4 1342.3 541.6C1342.8 545.4 1343.1 549.2 1344.1 552.8C1344.8 555.5 1345.7 558.2 1346.8 560.7C1347.7 563 1348.9 565.3 1350.1 567.4C1351.3 569.5 1352.7 571.6 1354.2 573.5C1355.5 575.3 1357 577.3 1358.6 578.7C1359.9 579.7 1361.6 580.6 1363.1 581.6C1364.6 582.5 1366.4 583.2 1367.6 584.3C1368.8 585.3 1369.8 586.9 1370.9 588.3C1372.1 589.7 1373.1 591.3 1374.3 592.6C1375.3 593.6 1376.5 594.6 1377.7 595.5C1378.7 596.3 1380 596.9 1381 597.7C1382.2 598.7 1383.4 599.9 1384.4 601.1C1385.4 602.4 1386.2 604.1 1387.1 605.6C1388.1 607.3 1390.2 610.8 1390.2 610.8M1463.5 611.2C1463.5 611.2 1468 610.9 1470.2 610.5C1472.1 610.2 1474.2 610.1 1475.8 609.4C1477.3 608.8 1478.9 607.7 1480.3 606.7C1481.8 605.7 1483.3 604.5 1484.8 603.4C1486.3 602.2 1487.8 601.2 1489.2 600C1490.8 598.7 1492.3 597.4 1493.7 596C1495.3 594.3 1496.8 592.4 1498.2 590.6C1499.8 588.6 1501.2 586.4 1502.7 584.3C1504.1 582.3 1505.8 580.4 1507.1 578.3C1508.4 576.3 1509.5 574.1 1510.5 572C1511.7 569.5 1512.6 566.7 1513.8 564.2C1514.9 561.9 1516 559.6 1517.2 557.5C1518.2 555.6 1519.5 553.7 1520.5 551.9C1521.7 549.9 1522.8 547.8 1523.9 545.8C1525 543.7 1526.2 541.7 1527.3 539.5C1528.5 537 1529.5 534.3 1530.6 531.7C1531.8 529 1532.8 526.2 1534 523.4C1535.1 520.7 1536.2 518 1537.3 515.4C1538.3 513.2 1539.1 511 1540.2 508.9C1541 507.3 1541.8 505.5 1542.9 504.2C1543.7 503.2 1544.6 502 1545.6 501.5C1546.2 501.1 1547.6 500.7 1548.1 500.8C1548.5 500.9 1549.6 502 1550.3 502.6C1551.3 503.6 1552.1 504.8 1553 506C1554.1 507.3 1555.2 508.6 1556.3 510C1557.5 511.4 1558.6 512.9 1559.7 514.5C1560.8 516.1 1561.9 517.8 1563 519.4C1564.1 520.9 1565.1 522.7 1566.4 523.9C1567.3 524.7 1568.7 525.3 1569.7 526.1C1570.9 526.9 1572 527.9 1573.1 528.8C1574.2 529.7 1575.3 530.9 1576.4 531.5C1577.4 531.9 1578.7 532.3 1579.8 532.4C1580.8 532.5 1582.3 532 1583.2 532.2C1584.2 532.4 1585.5 533.3 1586.5 533.9C1587.7 534.7 1588.8 535.7 1589.9 536.6C1591 537.6 1592.2 538.5 1593.2 539.5C1594.2 540.6 1595 542.2 1596.1 542.9C1596.8 543.4 1598.8 544 1598.8 544C1598.8 544 1600.8 542.6 1601.5 541.8C1602.4 540.7 1602.8 538.6 1603.7 537.8C1604.3 537.3 1606.2 536.4 1606.2 536.4C1606.2 536.4 1607.9 537.3 1608.4 537.8C1609.4 538.7 1610 540.7 1610.7 542.2C1611.5 544.2 1612.1 546.4 1612.9 548.5C1613.6 550.2 1614.1 552.8 1615.1 553.7C1615.6 554 1616.9 554.7 1617.4 554.8C1617.9 554.8 1619.3 554.1 1620 553.7C1621 553.1 1621.9 552.1 1622.7 551.2C1623.8 550 1624.8 548.4 1625.6 546.9C1626.7 545.2 1627.6 543.2 1628.5 541.3C1629.5 539.3 1630.4 537.2 1631.2 535.1C1632.2 532.5 1633.1 529.9 1633.9 527.2C1634.9 523.9 1635.6 520.5 1636.4 517.2C1637.2 513.1 1637.9 508.9 1638.6 504.8C1639.4 500 1640 495.1 1640.6 490.3C1641.3 484.3 1641.9 478.3 1642.4 472.4C1642.9 467.1 1643.2 461.9 1643.7 456.7C1644.1 453.5 1644.7 447 1644.7 447C1644.7 447 1645.8 450.5 1646.2 452.2C1646.9 455.1 1647.1 458.2 1647.5 461.2C1648.1 464.5 1648.4 467.9 1649.1 471.2C1649.6 473.5 1649.9 476.1 1650.9 478C1651.4 478.9 1652.3 479.9 1652.9 480.9C1653.5 481.9 1654.2 483 1654.7 484C1655.6 485.9 1655.9 488.2 1656.5 490.3C1657.1 492.5 1657.6 494.9 1658.5 497C1659.1 498.4 1659.8 499.9 1660.7 501C1661.5 502 1662.8 502.8 1663.6 503.7C1664.7 504.9 1665.5 506.4 1666.5 507.7C1667.6 509 1668.5 510.4 1669.7 511.6C1670.7 512.5 1671.9 513.5 1673 514.2C1674.1 514.9 1675.3 515.7 1676.4 516C1677.4 516.3 1678.8 516.1 1680 516.3C1681.2 516.4 1682.6 516.4 1683.8 516.7C1684.9 517 1686.2 517.6 1687.1 518.3C1688.3 519.1 1689.3 520.8 1690.5 521.6C1691.5 522.3 1692.8 523.2 1693.8 523.4C1694.8 523.6 1696.1 523.5 1697.2 523.4C1698.3 523.3 1699.4 522.8 1700.5 522.7C1701.6 522.7 1702.8 523 1703.9 523C1704.8 523 1706.3 523 1706.8 522.7C1707.4 522.4 1708.4 520.5 1709 519.4C1710.1 517.4 1710.5 514.9 1711.3 512.7C1712 510.8 1712.5 508.7 1713.5 507.1C1714.1 506.2 1715 504.7 1715.7 504.4C1716.2 504.2 1717.6 504.1 1718 504.2C1718.4 504.3 1719.4 505.6 1720 506.4C1721 507.8 1721.4 509.9 1722.2 511.6C1722.9 513.1 1723.5 514.8 1724.5 516C1725.1 516.8 1725.9 517.9 1726.7 518.3C1727.3 518.6 1728.7 518.8 1729.2 518.7C1729.8 518.6 1730.9 517.1 1731.8 516.7C1732.6 516.4 1733.8 516.4 1734.5 516C1735.5 515.5 1736.4 514.1 1737.4 513.3C1738.1 512.8 1739.7 512 1739.7 512C1739.7 512 1741 513.2 1741.5 513.8C1742.3 514.9 1742.5 516.8 1743 518.3C1743.7 520.5 1744.2 522.8 1744.8 525C1745.4 527.2 1745.9 529.6 1746.8 531.7C1747.4 533.2 1748.1 535 1749.1 536.2C1749.8 537.1 1750.9 538.1 1752 538.9C1753 539.6 1754.2 540.2 1755.3 540.7C1756.4 541.1 1757.6 541.6 1758.7 541.8C1759.7 541.9 1760.9 541.9 1762 541.8C1763.1 541.7 1764.3 541.4 1765.4 541.1C1766.5 540.8 1767.6 540.5 1768.7 540.2C1769.8 540 1771 539.7 1772.1 539.5C1773.2 539.4 1774.3 539.1 1775.4 539.1C1776 539.1 1777 539.1 1777 539.1"/>
<path class="cv" d="M1009.4 793.6C1009.4 793.6 1011.8 792.7 1012.8 792C1014 791.2 1015.1 789.8 1016.2 788.7C1017.3 787.4 1018.5 786.2 1019.5 784.9C1020.7 783.4 1021.9 781.8 1022.9 780.2C1024.1 778 1025 775.4 1025.8 773C1026.9 769.7 1027.7 766.3 1028.5 762.9C1029.3 759.2 1030 755.4 1030.7 751.7C1031.6 746.9 1032.2 742 1032.9 737.1C1033.7 731.9 1034.5 726.7 1035.2 721.4C1036 715.8 1036.8 710.2 1037.4 704.6C1038.1 699 1038.6 693.4 1039.2 687.8C1039.8 682.6 1040.2 677.4 1040.8 672.1C1041.2 668 1041.6 663.9 1042.1 659.8C1042.5 657.3 1043.3 652.4 1043.3 652.4C1043.3 652.4 1044 659.6 1044.4 663.2C1044.8 668.4 1045.1 673.6 1045.5 678.9C1045.9 685.6 1046.4 692.3 1046.8 699C1047.3 705.8 1047.6 712.5 1048.2 719.2C1048.6 725.2 1049 731.2 1049.7 737.1C1050.2 741.2 1050.6 745.5 1051.5 749.5C1052 751.3 1052.1 754 1053.1 755.1C1053.5 755.5 1054.9 756.4 1054.9 756.4C1054.9 756.4 1056.3 755.5 1056.7 755.1C1057.8 753.9 1058.1 751.3 1058.7 749.5C1059.5 746.6 1060 743.5 1060.5 740.5C1061.2 736.4 1061.7 732.3 1062.3 728.2C1062.9 723.3 1063.5 718.5 1064.1 713.6C1064.7 708 1065.3 702.4 1065.9 696.8C1066.5 690.8 1067 684.8 1067.6 678.9C1068.2 673.6 1068.6 668.4 1069.2 663.2C1069.6 659.8 1069.5 656.2 1070.6 653.1C1070.9 652.2 1071.7 650.4 1071.7 650.4C1071.7 650.4 1072.8 651.1 1073.2 651.5C1073.7 652 1074.3 652.6 1074.6 653.1C1075.8 654.9 1075.4 658.3 1075.7 660.9C1076.2 665 1076.6 669.2 1077 673.3C1077.5 677.8 1078.1 682.2 1078.6 686.7C1079.2 691.6 1079.7 696.4 1080.4 701.3C1081 705.4 1081.6 709.5 1082.4 713.6C1083 716.6 1083.5 719.7 1084.4 722.6C1085 724.4 1085.7 726.5 1086.7 728.2C1087.4 729.3 1088.4 730.4 1089.4 731.5C1090.3 732.7 1091.3 733.8 1092.3 734.9C1093.2 735.9 1095.2 737.8 1095.2 737.8C1095.2 737.8 1097 737 1097.9 736.7C1098.6 736.5 1100.1 736.2 1100.1 736.2C1100.1 736.2 1101.3 739.1 1101.9 740.5C1102.5 742 1103 743.8 1103.9 745C1104.5 745.8 1105.5 747 1106.1 747.2C1106.7 747.4 1108.1 747.3 1109.1 747.2C1109.9 747.1 1111.1 746.5 1111.7 746.5C1112.4 746.6 1113.5 747.4 1114.2 747.9C1115.2 748.7 1116 750 1116.9 751C1117.9 752.3 1118.8 753.8 1119.8 755.1C1120.8 756.2 1121.8 757.4 1122.9 758.4C1124.1 759.5 1125.6 760.5 1127 761.3C1128.7 762.4 1130.7 763.3 1132.6 764.2C1134.8 765.3 1137 766.4 1139.3 767.4C1141.5 768.3 1143.7 769.1 1146 769.8C1148.2 770.6 1150.4 771.3 1152.7 771.9C1154.9 772.5 1157.2 772.9 1159.4 773.4C1160.9 773.8 1162.5 774 1163.9 774.6C1165 775 1166.1 775.8 1167.3 776.3C1168.3 776.8 1169.5 777.4 1170.6 777.7C1171.6 777.9 1172.9 778 1174 777.9C1175.3 777.8 1176.7 777.4 1178 777C1179.3 776.6 1180.7 776 1181.8 775.2C1183 774.4 1184.3 773.1 1185.2 771.9C1186.3 770.4 1187.1 768.5 1187.8 766.7C1189 764.1 1189.6 761.2 1190.3 758.4C1191.2 754.7 1191.9 751 1192.5 747.2C1193.4 742.4 1194 737.5 1194.6 732.7C1195.3 727.1 1195.8 721.5 1196.4 715.8C1196.9 709.9 1197.4 703.9 1197.9 697.9C1198.4 692.3 1198.6 686.7 1199.3 681.1C1199.6 677.7 1199.2 673.6 1200.6 671C1201 670.3 1201.5 669.3 1202.2 668.8C1202.5 668.5 1203.5 668.1 1203.5 668.1C1203.5 668.1 1204.3 670.8 1204.6 672.1C1205.2 674.4 1205.5 676.6 1206 678.9C1206.4 680.9 1206.8 683 1207.5 684.9C1208 686.3 1208.5 687.9 1209.3 689C1210 689.8 1211.1 690.7 1212 691.2C1213 691.7 1214.3 691.9 1215.4 692.3C1216.5 692.8 1217.8 693.2 1218.7 693.9C1219.8 694.6 1220.8 695.8 1221.6 696.8C1222.7 698 1223.4 699.5 1224.3 700.8C1225.2 702.1 1225.9 703.8 1227 704.6C1227.6 705.1 1229.3 705.8 1229.3 705.8C1229.3 705.8 1231 704.3 1231.7 703.5C1232.9 702.2 1233.6 700.3 1234.4 698.6C1235.4 696.5 1236.4 694.4 1237.3 692.3C1238.4 689.9 1239.4 687.5 1240.4 685.1C1241.6 682.7 1242.6 680.2 1243.8 677.8C1244.9 675.5 1246 673.2 1247.2 671C1248.2 669.1 1249.6 667.3 1250.5 665.4C1251.7 663.2 1252.6 660.7 1253.4 658.3C1254.4 655.5 1255 652.6 1255.7 649.7C1256.4 646.4 1256.9 643 1257.5 639.7C1258 636.7 1258.5 633.7 1259 630.7C1259.5 628.2 1260.4 623.2 1260.4 623.2C1260.4 623.2 1261.3 629.7 1261.7 632.9C1262.2 637 1262.6 641.2 1263.1 645.3C1263.5 649.4 1263.8 653.5 1264.4 657.6C1264.8 660.1 1264.6 663.3 1265.7 665C1266.2 665.6 1267.5 667 1267.5 667C1267.5 667 1269.1 665.9 1269.5 665.4C1270.7 664.1 1270.8 660.9 1271.3 658.7C1272 656.3 1272.2 653.8 1273.1 651.5C1273.7 650.2 1275.1 647.5 1275.1 647.5L1277.4 647.5C1277.4 647.5 1278.5 649.8 1279.2 650.9C1279.9 652 1280.6 653.2 1281.4 654.2C1282.1 655 1283.7 656.5 1283.7 656.5C1283.7 656.5 1285.1 655.7 1285.4 655.3C1286.4 654.4 1286.4 651.6 1287 649.7C1287.5 648.4 1288.6 645.7 1288.6 645.7C1288.6 645.7 1289.9 647.7 1290.4 648.6C1291.4 650.9 1291.4 653.9 1291.9 656.5C1292.5 659.1 1293 661.8 1293.7 664.3C1294.4 666.4 1295 668.6 1296 670.6C1296.7 672.1 1297.6 673.8 1298.6 675.1C1299.5 676 1300.5 677.3 1301.6 677.8C1302.3 678.1 1304.2 678.4 1304.2 678.4C1304.2 678.4 1305.5 675.8 1306 674.4C1306.8 672.4 1307 670.3 1307.8 668.3C1308.4 667 1309.8 664.3 1309.8 664.3C1309.8 664.3 1311.5 664.7 1312.1 665C1313 665.4 1313.7 666.6 1314.5 667.2C1315.4 667.8 1316.4 668.2 1317.2 668.8C1318 669.4 1318.7 670.3 1319.5 671C1320.2 671.7 1321.7 672.8 1321.7 672.8C1321.7 672.8 1323.2 672.1 1323.9 671.7C1324.7 671.3 1326.2 670.4 1326.2 670.4C1326.2 670.4 1327.3 674.5 1327.7 676.6C1328.5 680.3 1328.6 684.1 1329.1 687.8C1329.6 692.3 1330.1 696.8 1330.7 701.3C1331.3 706.4 1332.6 716.8 1332.6 716.8C1332.6 716.8 1334.8 711 1335.6 708C1336.4 705.1 1336.5 701.9 1337.4 699C1337.9 697.3 1338.3 694.6 1339.2 693.9C1339.5 693.6 1341.2 693 1341.2 693C1341.2 693 1342.2 694.8 1342.5 695.7C1343.6 698.3 1343.6 701.7 1344.1 704.6C1344.7 708.4 1345.2 712.1 1345.9 715.8C1346.5 719.2 1347.1 722.6 1347.9 725.9C1348.5 728.6 1349.1 731.3 1350.1 733.8C1350.9 735.7 1352 737.6 1353 739.4C1354.1 741.1 1355.2 742.7 1356.4 744.3C1357.5 745.8 1358.7 747.3 1359.8 748.8C1360.9 750.3 1361.9 752 1363.1 753.5C1364.2 754.8 1365.2 756.2 1366.5 757.3C1367.5 758.1 1368.7 758.8 1369.8 759.5C1370.7 760.1 1371.9 760.5 1372.5 761.1C1373.5 762 1374 763.8 1374.8 765.1C1375.7 766.7 1376.7 768.1 1377.7 769.6C1378.8 771.3 1379.9 773.1 1381 774.8C1382.1 776.4 1383.4 778 1384.4 779.7C1385.4 781.4 1386.3 783.1 1387.1 784.9C1387.8 786.4 1388.2 788.2 1388.9 789.8C1389.3 790.9 1390.2 793.2 1390.2 793.2M1468 793.6C1468 793.6 1472.6 793.5 1474.7 793.2C1476.6 792.8 1478.5 792.2 1480.3 791.6C1482.2 790.9 1484.1 790.1 1485.9 789.1C1487.8 788.1 1489.6 786.5 1491.5 785.3C1493.3 784.1 1495.4 783.2 1497.1 781.9C1498.6 780.8 1500.1 779.3 1501.5 777.9C1503.1 776.5 1504.7 775 1506 773.4C1507.3 771.9 1508.5 770.2 1509.4 768.5C1510.3 766.8 1510.9 764.8 1511.6 762.9C1512.4 760.7 1513 758.4 1513.8 756.2C1514.8 753.5 1516.1 751 1517.2 748.3C1518.3 745.7 1519.4 743.1 1520.5 740.5C1521.6 738 1522.7 735.5 1523.9 733.1C1524.9 731 1525.9 728.8 1527.3 727C1528.2 725.9 1529.5 724.8 1530.6 723.7C1531.8 722.4 1532.9 721 1534 719.7C1535.2 718.1 1536.3 716.4 1537.3 714.7C1538.6 712.6 1539.7 710.3 1540.7 708C1541.8 705.5 1542.7 702.8 1543.6 700.2C1544.6 697.2 1545.4 694.2 1546.3 691.2C1547.2 687.9 1548 684.5 1548.9 681.1C1549.8 678.1 1550.5 675.1 1551.4 672.1C1552.1 669.9 1552.5 667.3 1553.6 665.4C1554.2 664.5 1555.1 663.2 1555.9 662.7C1556.5 662.4 1557.7 662.2 1558.6 662.1C1559.6 661.9 1560.8 662.2 1561.9 662.1C1562.9 662 1564.3 661.7 1564.8 661.4C1565.5 660.9 1566.2 658.9 1566.8 657.6C1567.5 656.3 1567.8 654.3 1568.6 653.8C1568.9 653.6 1570.2 653.1 1570.2 653.1C1570.2 653.1 1571.5 655 1572 656C1572.9 657.8 1573 660.1 1573.8 662.1C1574.3 663.6 1574.8 665.5 1575.8 666.5C1576.3 667.2 1577.3 668 1578 668.3C1578.7 668.6 1580.5 668.8 1580.5 668.8C1580.5 668.8 1581.9 672.5 1582.5 674.4C1583.3 677 1584 679.6 1584.7 682.2C1585.5 684.8 1586.1 687.5 1587 690.1C1587.7 692.3 1588.4 694.7 1589.4 696.8C1590.2 698.3 1591 700.2 1592.1 701.3C1592.8 701.9 1594.8 703.1 1594.8 703.1C1594.8 703.1 1596.7 701.8 1597.7 701.3C1598.4 700.9 1599.9 700.2 1599.9 700.2C1599.9 700.2 1601.2 702.4 1601.7 703.5C1602.5 705.3 1602.9 707.3 1603.7 709.1C1604.4 710.6 1605 712.7 1606 713.6C1606.6 714.2 1607.9 714.6 1608.9 715.2C1609.8 715.7 1610.6 716.4 1611.5 717C1612.3 717.4 1614 718.3 1614 718.3C1614 718.3 1615.8 717.4 1616.7 717C1617.6 716.6 1618.6 715.9 1619.4 715.8C1620.2 715.7 1621.3 716.1 1622.3 716.3C1623.2 716.5 1624.3 716.6 1625 717C1625.7 717.4 1626.5 718.4 1627.2 719.2C1628 720.2 1628.6 722 1629.4 722.6C1629.9 722.8 1631.2 723.2 1631.2 723.2C1631.2 723.2 1632.3 719.1 1632.8 717C1633.5 714 1634 711 1634.6 708C1635.3 704.3 1636 700.5 1636.8 696.8C1637.5 693.8 1638.5 690.8 1639 687.8C1639.8 684.2 1640.2 680.4 1640.6 676.6C1641.2 671.4 1641.6 666.2 1642 660.9C1642.4 655 1642.7 649 1643.1 643C1643.4 637 1643.8 631.1 1644.2 625.1C1644.5 620.5 1645.3 611.2 1645.3 611.2M1652 611.2C1652 611.2 1653 618.2 1653.6 621.7C1654.2 625.5 1654.6 629.2 1655.4 632.9C1656 635.9 1656.4 639 1657.4 641.9C1658 643.8 1658.7 645.8 1659.6 647.5C1660.4 649 1661.6 650.5 1662.5 652C1663.6 653.8 1664.6 655.7 1665.4 657.6C1666.4 659.8 1667.1 662.1 1668.1 664.3C1668.9 666.1 1669.7 668.1 1670.8 669.5C1671.6 670.4 1672.8 671.2 1673.7 672.1C1674.8 673.3 1675.6 674.8 1676.6 676.2C1677.6 677.6 1678.7 679.1 1679.7 680.4C1680.8 681.8 1682 683.1 1683.1 684.5C1684.2 685.8 1685.3 687.1 1686.4 688.3C1687.5 689.4 1688.6 690.6 1689.8 691.6C1690.9 692.7 1692 693.6 1693.2 694.6C1694.1 695.3 1695 696.2 1696.1 696.8C1696.8 697.2 1698.3 697.9 1698.3 697.9C1698.3 697.9 1700 696.4 1700.5 695.7C1701.5 694.3 1701.8 692 1702.3 690.1C1703.1 687.1 1703.7 684.1 1704.3 681.1C1705 678.1 1705.5 675.1 1706.1 672.1C1706.7 669.5 1707 666.7 1707.9 664.3C1708.3 663.2 1709.5 660.9 1709.5 660.9C1709.5 660.9 1710.8 661.7 1711.3 662.1C1711.9 662.7 1712.2 664.2 1712.8 665C1713.3 665.5 1714.4 666.5 1714.4 666.5C1714.4 666.5 1715.7 665.1 1716.2 664.3C1717.2 662.8 1718.6 659.2 1718.6 659.2C1718.6 659.2 1720.1 664.8 1720.7 667.7C1721.3 670.6 1721.7 673.7 1722.2 676.6C1722.8 679.6 1723.3 682.6 1724 685.6C1724.5 687.7 1724.7 690.3 1725.8 691.9C1726.3 692.6 1727.1 693.7 1727.8 694.1C1728.2 694.3 1729.6 694.6 1729.6 694.6C1729.6 694.6 1731.2 691.6 1731.8 690.1C1732.8 687.9 1733.4 685.6 1734.1 683.4C1734.9 680.4 1735.6 677.4 1736.3 674.4C1736.9 671.8 1737.5 669.2 1738.1 666.5C1738.8 663.4 1740.3 657.1 1740.3 657.1C1740.3 657.1 1741.8 661.9 1742.3 664.3C1743.1 667.9 1743.3 671.8 1743.7 675.5C1744.2 680.4 1744.7 685.2 1745.3 690.1C1745.8 694.6 1746.1 699.1 1746.8 703.5C1747.2 706.1 1747.3 709 1748.2 711.4C1748.6 712.5 1749.7 714.7 1749.7 714.7L1751.5 714.7C1751.5 714.7 1752.8 711.8 1753.5 711.4C1754 711.1 1755 710.9 1755.8 710.7C1756.6 710.5 1757.5 710.5 1758.2 710.2C1759.1 709.9 1760 708.9 1760.9 708.5C1761.7 708.1 1762.7 707.9 1763.6 707.6C1764.4 707.2 1765.4 706.7 1766 706.2C1766.8 705.6 1767.5 704.4 1768.1 703.5C1768.8 702.3 1769 700.2 1769.8 699.5C1770.2 699.2 1771.4 698.6 1771.4 698.6C1771.4 698.6 1772.6 700.4 1773.2 701.3C1773.8 702 1774.3 702.8 1775 703.5C1775.6 704.2 1777 705.3 1777 705.3"/>
<path class="cv" d="M1053.5 975.7C1053.5 975.7 1055.8 974.5 1056.5 973.9C1057.9 972.6 1058.5 969.2 1059.4 966.8C1060.5 963.5 1061.2 960.1 1062 956.7C1063.1 952.3 1064 947.7 1064.7 943.3C1065.7 937.7 1066.3 932.1 1067 926.5C1067.7 919.8 1068.2 913.1 1068.8 906.3C1069.4 898.9 1069.9 891.4 1070.3 884C1070.8 875.8 1071.2 867.6 1071.7 859.4C1072.1 851.9 1072.4 844.5 1072.8 837C1073.1 830.3 1073.5 823.6 1073.9 816.9C1074.2 811.6 1075 800.9 1075 800.9C1075 800.9 1075.8 807.1 1076.1 810.2C1076.5 813.1 1077 816.1 1077.3 819.1C1077.9 825 1077.9 831 1078.4 837C1078.8 843 1079.4 848.9 1080 854.9C1080.4 860.1 1081 865.3 1081.5 870.6C1082.1 875.8 1082.6 881 1083.3 886.2C1083.9 890.3 1084.3 894.5 1085.1 898.5C1085.7 901.9 1086.5 905.3 1087.3 908.6C1088.1 911.6 1088.9 914.7 1090 917.5C1091 920 1092.1 922.5 1093.4 924.7C1094.5 926.6 1096 928.5 1097.4 930.3C1098.8 932.1 1100.3 933.8 1101.9 935.4C1103.5 937.1 1105.2 938.7 1106.8 940.4C1108.3 941.8 1109.7 943.5 1111.3 944.8C1112.6 945.9 1114.2 946.9 1115.8 947.7C1117.8 948.9 1120.2 949.6 1122.5 950.4C1124.7 951.3 1127 952.1 1129.2 952.9C1131.4 953.7 1133.7 954.5 1135.9 955.3C1138.2 956.2 1140.4 957.1 1142.6 957.8C1144.8 958.5 1147.1 959.3 1149.3 959.8C1151.5 960.4 1153.8 960.7 1156.1 961.2C1158.3 961.6 1160.5 961.9 1162.8 962.3C1165 962.7 1167.3 963 1169.5 963.4C1171.7 963.8 1174 964.2 1176.2 964.5C1178.4 964.8 1180.7 965.1 1182.9 965.4C1184.4 965.6 1186.1 966.2 1187.4 966.1C1188.3 966 1189.8 965.6 1190.3 965.2C1191.1 964.6 1192 962.5 1192.5 961.2C1193.6 958.8 1194 955.9 1194.6 953.3C1195.4 949.7 1195.8 945.9 1196.4 942.1C1197 937.7 1197.5 933.2 1198.1 928.7C1198.7 924.2 1199.3 919.8 1199.9 915.3C1200.5 911.6 1200.6 907.6 1201.7 904.1C1202.2 902.6 1202.8 900.1 1203.5 899.6C1203.9 899.4 1205.8 899 1205.8 899C1205.8 899 1207.3 900.9 1208 901.9C1209 903.2 1209.8 904.7 1210.9 905.9C1211.9 907 1213.1 908.2 1214.3 909C1215.6 909.9 1217.3 910.5 1218.7 911.3C1220.2 912.1 1221.7 912.9 1223.2 913.7C1224.7 914.6 1226.2 915.6 1227.7 916.2C1229.1 916.8 1230.7 917.3 1232.2 917.5C1233.4 917.7 1235 917.8 1236.2 917.5C1237.3 917.3 1238.6 916.6 1239.6 916C1240.5 915.3 1241.5 914.1 1242.2 913.1C1243.3 911.7 1244 910 1244.9 908.6C1245.8 907.3 1246.8 906 1247.8 904.8C1248.8 903.6 1249.9 902.6 1250.7 901.4C1251.7 900.2 1252.7 898.8 1253.4 897.4C1254.5 895.4 1254.9 892.9 1255.7 890.7C1256.4 888.5 1256.9 886 1257.9 884C1258.5 882.7 1259.5 880.5 1260.1 880.2C1260.5 880 1261.8 879.9 1262.4 880C1263.2 880.1 1264.2 880.9 1265.1 881.3C1266.1 881.7 1267.3 882.1 1268.4 882.4C1269.7 882.7 1271.1 882.8 1272.5 883.1C1274 883.4 1275.5 883.6 1276.9 884C1278.4 884.4 1280 884.9 1281.4 885.5C1282.9 886.2 1284.4 887.1 1285.9 887.8C1287.4 888.4 1288.9 889.2 1290.4 889.6C1291.8 889.9 1293.4 890.1 1294.8 890.2C1296.3 890.4 1297.9 890.1 1299.3 890.2C1300.8 890.4 1302.3 890.8 1303.8 891.1C1305.3 891.5 1306.8 892 1308.3 892.3C1309.7 892.5 1311.3 892.8 1312.8 892.9C1314.2 893.1 1315.7 893 1317.2 893.2C1318.7 893.3 1320.2 893.5 1321.7 893.8C1323.2 894.1 1324.7 894.5 1326.2 894.9C1327.5 895.3 1329.1 895.6 1330 896.3C1330.9 896.9 1331.8 898.2 1332.4 899.2C1333.5 900.9 1334 903.2 1334.7 905.2C1335.5 907.8 1336.1 910.5 1336.9 913.1C1337.7 915.5 1338.6 918 1339.6 920.4C1340.5 922.5 1341.5 924.5 1342.5 926.5C1343.5 928.4 1344.5 930.3 1345.7 932.1C1346.8 933.8 1347.9 935.6 1349.2 937.2C1350.5 938.8 1352 940.3 1353.5 941.7C1354.9 943 1356.5 944.2 1358 945.5C1359.5 946.8 1361.1 948 1362.7 949.3C1364.2 950.6 1365.7 952 1367.1 953.3C1368.7 954.8 1370.1 956.3 1371.6 957.8C1373.1 959.3 1374.6 960.8 1376.1 962.3C1377.5 963.6 1378.9 965 1380.4 966.3C1381.7 967.6 1383.1 968.8 1384.4 970.1C1385.4 971.2 1386.2 972.5 1387.3 973.5C1388.2 974.3 1390.2 975.7 1390.2 975.7M1503.8 975.7C1503.8 975.7 1506.9 973.5 1508.3 972.3C1509.8 971 1511.3 969.4 1512.7 967.9C1514.3 966.3 1515.8 964.6 1517.2 962.9C1518.7 961.1 1520.2 959.3 1521.7 957.4C1523.2 955.3 1524.7 953.2 1526.1 951.1C1527.7 948.9 1529.2 946.6 1530.6 944.4C1532.1 942 1533.6 939.6 1535.1 937.2C1536.5 935 1538 932.7 1539.6 930.5C1540.8 928.8 1542.2 927.1 1543.6 925.4C1544.9 923.7 1546.2 922.1 1547.4 920.4C1548.6 918.8 1549.6 917 1550.7 915.3C1551.9 913.5 1553.1 911.6 1554.1 909.7C1555.1 907.7 1556.1 905.7 1557 903.7C1557.9 901.6 1558.9 899.5 1559.7 897.4C1560.5 895.2 1561.2 892.9 1561.9 890.7C1562.7 888.1 1563.4 885.5 1564.1 882.9C1564.9 880.3 1565.6 877.6 1566.4 875C1567.1 872.6 1567.8 870.2 1568.6 867.9C1569.3 865.9 1569.9 863.9 1570.9 862.1C1571.5 860.8 1572.2 859.4 1573.1 858.3C1573.7 857.5 1574.5 856.5 1575.3 856C1575.8 855.7 1576.8 855.3 1577.1 855.3C1577.5 855.4 1578.7 856.2 1579.1 856.7C1580.1 857.6 1580.4 860 1580.9 861.6C1581.7 864.1 1582 866.8 1582.5 869.4C1583.1 872.4 1583.7 875.4 1584.3 878.4C1584.9 881.4 1585.4 884.4 1586.1 887.3C1586.7 890.3 1587.2 893.4 1588.1 896.3C1588.7 898.4 1589.5 900.5 1590.3 902.5C1591.1 904.6 1591.9 906.6 1592.8 908.6C1593.6 910.7 1594.5 912.8 1595.4 914.9C1596.3 916.7 1597.3 918.6 1598.4 920.4C1599.3 922.1 1600.4 923.8 1601.5 925.4C1602.4 926.7 1603.4 928.1 1604.4 929.4C1605.3 930.7 1606.3 931.9 1607.3 933.2C1608.2 934.3 1609 935.6 1610 936.6C1610.7 937.2 1611.6 938.2 1612.2 938.3C1612.7 938.5 1613.9 938.3 1614.5 938.1C1615.3 937.8 1616.4 936.7 1617.1 935.9C1618.1 934.8 1618.9 933.4 1619.6 932.1C1620.4 930.6 1620.9 929 1621.8 927.6C1622.5 926.6 1623.2 925.3 1624.1 924.7C1624.7 924.3 1625.7 923.7 1626.3 923.6C1627 923.5 1628.1 924 1629 924.2C1629.7 924.4 1631.2 924.7 1631.2 924.7C1631.2 924.7 1632.8 922.9 1633.5 922C1634.4 920.7 1634.9 919 1635.7 917.5C1636.4 916 1637.1 914.5 1637.9 913.1C1638.6 911.9 1639.3 910.7 1640.2 909.7C1640.8 908.9 1641.8 908.3 1642.4 907.5C1643.1 906.5 1643.7 905.2 1644.2 904.1C1645.3 901.5 1645.3 898.2 1645.8 895.2C1646.4 890.7 1646.8 886.2 1647.3 881.7C1647.8 877.3 1648.1 872.8 1648.7 868.3C1649.1 865.3 1649 862.1 1650 859.4C1650.5 858.1 1651.8 855.6 1651.8 855.6C1651.8 855.6 1653.3 855.5 1653.6 855.6C1654.1 855.7 1654.9 856.9 1655.4 857.6C1656.2 858.8 1656.5 860.6 1657.2 862.1C1657.8 863.4 1658.3 865.1 1659.2 866.1C1659.7 866.7 1661.4 867.9 1661.4 867.9C1661.4 867.9 1662.9 867.4 1663.6 867.2C1664.2 867 1665.4 866.8 1665.4 866.8C1665.4 866.8 1666.6 868.5 1667 869.4C1668 871.4 1668.2 873.9 1668.8 876.1C1669.5 878.8 1670.1 881.4 1670.8 884C1671.5 886.6 1672.2 889.2 1673 891.8C1673.7 894.1 1674.4 896.4 1675.3 898.5C1676 900.2 1676.8 901.9 1677.7 903.4C1678.5 904.7 1679.4 905.9 1680.4 907C1681.4 908.1 1682.6 909.4 1683.8 910.2C1684.7 910.7 1686.2 911.4 1687.1 911.5C1688 911.6 1689.5 911.2 1690.5 910.8C1691.5 910.5 1692.5 909.5 1693.4 909.3C1694.1 909.1 1695.3 909.1 1696.1 909.3C1696.9 909.5 1697.9 910.3 1698.7 910.8C1699.6 911.3 1700.6 912.3 1701.2 912.4C1701.6 912.4 1702.9 912.1 1703.2 911.9C1703.8 911.6 1704.5 909.7 1705 908.6C1705.9 906.5 1706.3 904.1 1706.8 901.9C1707.4 899.3 1707.7 896.6 1708.4 894C1708.8 892.3 1709.9 888.9 1709.9 888.9L1711.7 888.5C1711.7 888.5 1713 889.6 1713.5 890.2C1714.4 891.3 1714.9 892.8 1715.5 894C1716.3 895.5 1716.9 897.1 1717.8 898.5C1718.4 899.7 1720 901.9 1720 901.9C1720 901.9 1721.6 901.2 1722.2 900.8C1723.1 900.1 1723.7 898.5 1724.5 898.1C1725 897.8 1726.7 897.4 1726.7 897.4C1726.7 897.4 1728.3 898.5 1728.9 899.2C1729.9 900.1 1730.5 901.3 1731.4 902.3C1732.2 903.3 1733.1 904.4 1734.1 905.2C1735.1 906.1 1736.3 906.8 1737.4 907.5C1738.5 908.1 1739.6 908.6 1740.8 909C1742 909.5 1743.3 909.8 1744.6 910.2C1745.8 910.5 1747 911 1748.2 911.3C1749.4 911.6 1750.7 911.9 1752 911.9C1753 912 1754.2 911.7 1755.3 911.5C1756.4 911.3 1757.6 910.9 1758.7 910.8C1759.8 910.7 1761 910.7 1762 910.8C1763.1 911 1764.2 911.6 1765.4 911.9C1766.3 912.2 1767.3 912.3 1768.3 912.6C1769.2 912.9 1770.5 913.3 1771 913.7C1771.7 914.3 1772.2 916.3 1772.8 917.5C1773.5 919.4 1774.1 921.3 1774.8 923.1C1775.5 925 1777 928.7 1777 928.7"/>
<text class="n" transform="translate(982 76.9) scale(0.900 1)" text-anchor="middle">4</text>
<text class="n" transform="translate(982 168) scale(0.900 1)" text-anchor="middle">2</text>
<text class="n" transform="translate(977.6 259.7) scale(0.900 1)" text-anchor="middle">0</text>
<text class="n" transform="translate(980.4 294.5) scale(0.900 1)" text-anchor="middle">4</text>
<text class="n" transform="translate(980.4 385.7) scale(0.900 1)" text-anchor="middle">2</text>
<text class="n" transform="translate(977.9 445.3) scale(0.900 1)" text-anchor="middle">0</text>
<text class="n" transform="translate(977.2 479.4) scale(0.900 1)" text-anchor="middle">4</text>
<text class="n" transform="translate(977 571.2) scale(0.900 1)" text-anchor="middle">2</text>
<text class="n" transform="translate(981 626.9) scale(0.900 1)" text-anchor="middle">0</text>
<text class="n" transform="translate(980.4 671.1) scale(0.900 1)" text-anchor="middle">4</text>
<text class="n" transform="translate(980.4 762.6) scale(0.900 1)" text-anchor="middle">2</text>
<text class="n" transform="translate(983.5 806.2) scale(0.900 1)" text-anchor="middle">0</text>
<text class="n" transform="translate(980.4 846.9) scale(0.900 1)" text-anchor="middle">4</text>
<text class="n" transform="translate(980.4 937.4) scale(0.900 1)" text-anchor="middle">2</text>
<text class="n" transform="translate(981 984.5) scale(0.900 1)" text-anchor="middle">0</text>
<text class="m" x="984.8" y="1011.8">–</text>
<text class="n" transform="translate(1000.8 1014.1) scale(0.900 1)">6</text>
<text class="m" x="1113.7" y="1011.8">–</text>
<text class="n" transform="translate(1129.7 1014.1) scale(0.900 1)">4</text>
<text class="m" x="1242.7" y="1011.8">–</text>
<text class="n" transform="translate(1258.7 1014.1) scale(0.900 1)">2</text>
<text class="n" transform="translate(1390.4 1014.1) scale(0.900 1)" text-anchor="middle">0</text>
<text class="n" transform="translate(1519.3 1014.1) scale(0.900 1)" text-anchor="middle">2</text>
<text class="n" transform="translate(1648.3 1014.1) scale(0.900 1)" text-anchor="middle">4</text>
<text class="n" transform="translate(1777.2 1014.1) scale(0.900 1)" text-anchor="middle">6</text>
<text class="g" transform="translate(1055.9 102.3) scale(0.980 1)">(TDOS)</text>
<text class="e" x="1335.6" y="104.7">E<tspan class="f" dx="-0.8" dy="10.5">F</tspan></text>
<text class="t" x="1592.9" y="43.9">Ga<tspan class="s" dx="1" dy="15">1-x</tspan><tspan dy="-15">Al</tspan><tspan class="s" dx="1" dy="15">x</tspan><tspan dy="-15">Sb</tspan></text>
<text class="q" transform="translate(1649.7 93) scale(0.928 1)" text-anchor="end">x = 0.0</text>
<text class="q" transform="translate(1643.7 278.4) scale(0.928 1)" text-anchor="end">x = 0.25</text>
<text class="q" transform="translate(1644 458.7) scale(0.928 1)" text-anchor="end">x = 0.50</text>
<text class="q" transform="translate(1649.2 642.2) scale(0.928 1)" text-anchor="end">x = 0.75</text>
<text class="q" transform="translate(1643.3 822.8) scale(0.928 1)" text-anchor="end">x = 1.0</text>
<text class="l" x="1318.1" y="1065.9" textLength="157.6" lengthAdjust="spacingAndGlyphs">Energy (eV)</text>
<text class="l" x="798.7" y="541.9" textLength="271" lengthAdjust="spacingAndGlyphs" transform="rotate(-90 934.2 541.9)">DOS (states/eV/cell)</text>
<text class="p" x="926.4" y="29.5">b</text>
</g>
</svg>
</body></html>
